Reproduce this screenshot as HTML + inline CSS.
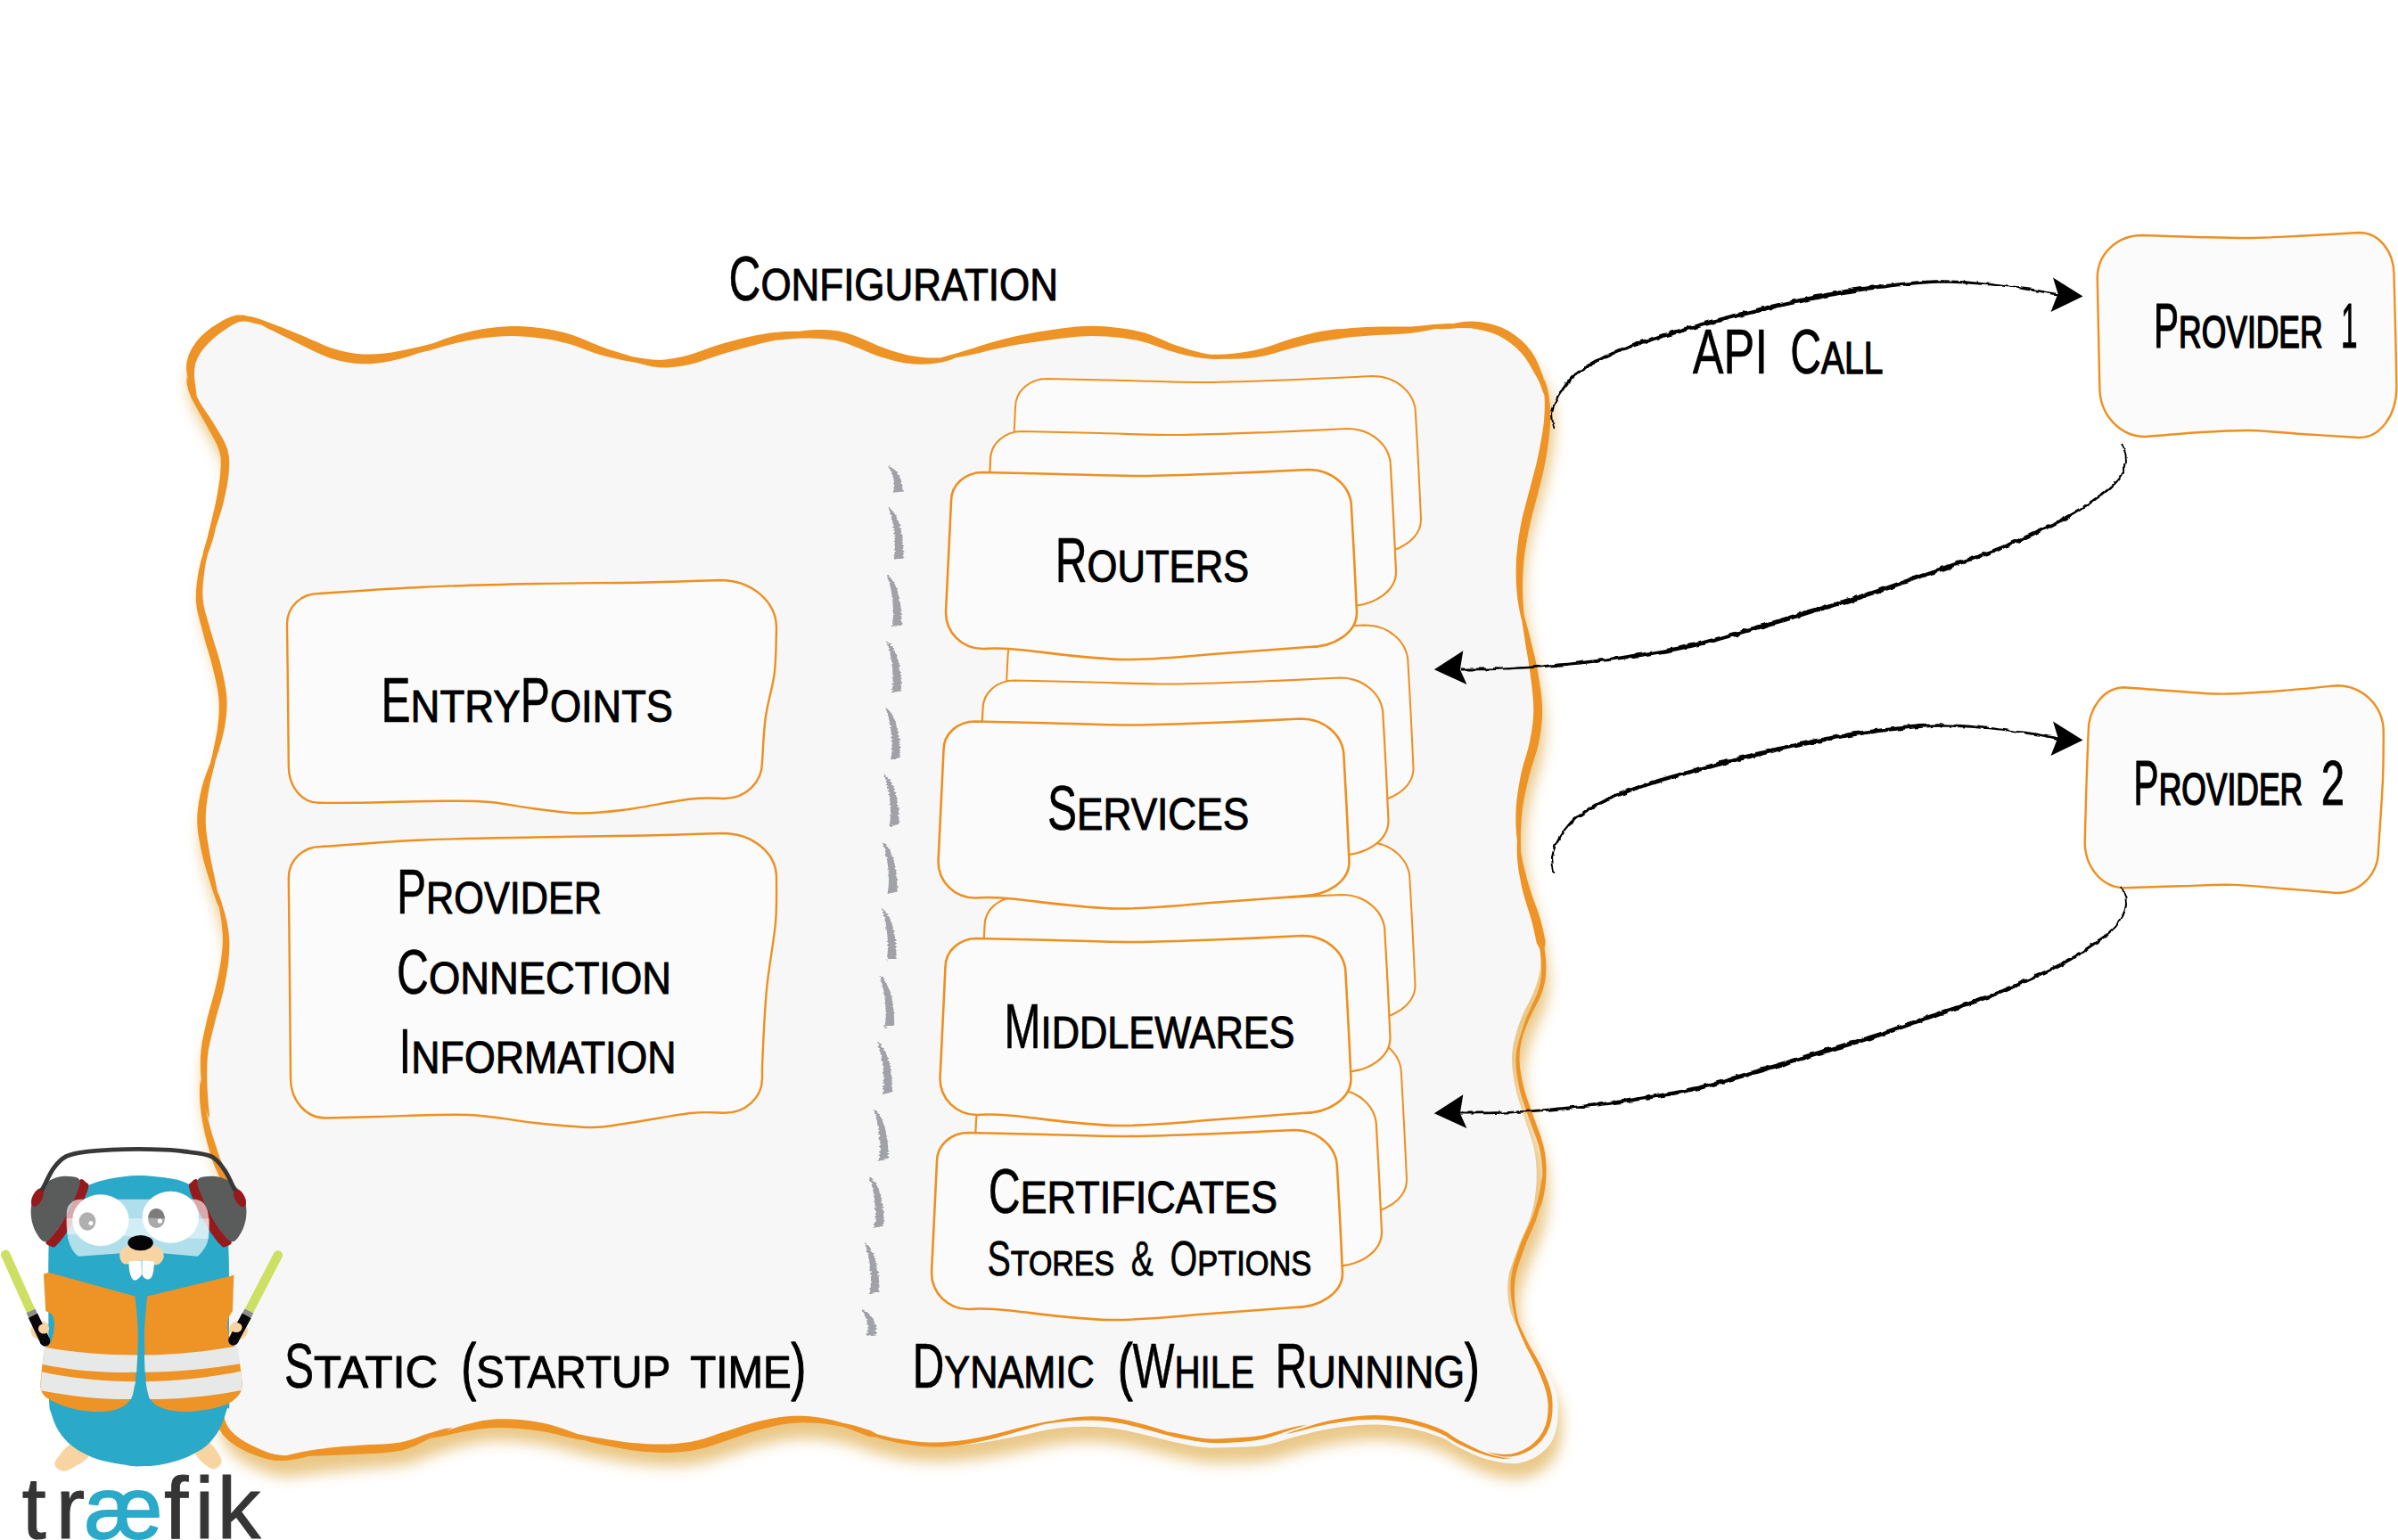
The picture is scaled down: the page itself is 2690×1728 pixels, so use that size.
<!DOCTYPE html>
<html lang="en"><head><meta charset="utf-8"><title>Traefik configuration overview</title>
<style>
html,body{margin:0;padding:0;background:#fff;}
body{width:2690px;height:1728px;overflow:hidden;}
svg{display:block;}
text{font-family:"Liberation Sans",sans-serif;fill:#000;}
.sc{stroke:#000;stroke-width:1px;stroke-linejoin:round;}
.lbl{stroke:#000;stroke-linejoin:round;}
.sm{text-transform:uppercase;}
.sc{font-variant:small-caps;font-variant-caps:small-caps;}
</style></head><body>
<svg width="2690" height="1728" viewBox="0 0 2690 1728" role="img" aria-labelledby="dgt dgd">
<title id="dgt">Traefik configuration overview</title>
<desc id="dgd">Configuration. Static (startup time): EntryPoints, Provider Connection Information. Dynamic (While Running): Routers, Services, Middlewares, Certificates Stores &amp; Options. API Call to Provider 1 and Provider 2. træfik</desc>
<defs>
<filter id="rough" x="-2%" y="-10%" width="104%" height="120%"><feTurbulence type="fractalNoise" baseFrequency="0.11" numOctaves="2" seed="3" result="n"/><feDisplacementMap in="SourceGraphic" in2="n" scale="4.5" xChannelSelector="R" yChannelSelector="G"/></filter>
<filter id="rough2" x="-30%" y="-5%" width="160%" height="110%"><feTurbulence type="fractalNoise" baseFrequency="0.03 0.55" numOctaves="1" seed="7" result="n"/><feDisplacementMap in="SourceGraphic" in2="n" scale="4.5" xChannelSelector="R" yChannelSelector="A"/></filter>
<filter id="glow" x="-5%" y="-5%" width="112%" height="112%"><feGaussianBlur stdDeviation="8"/></filter>
</defs>
<g transform="translate(4,17)" opacity="0.58" filter="url(#glow)"><path d="M273.3 356.7C283.3 357.2 295.6 365.3 306.7 370.0C317.8 374.7 328.9 380.3 340.0 385.0C351.1 389.7 362.2 395.2 373.3 398.3C384.4 401.4 395.6 403.0 406.7 403.3C417.8 403.6 428.9 401.9 440.0 400.0C451.1 398.1 462.2 394.8 473.3 391.7C484.4 388.6 495.6 384.5 506.7 381.7C517.8 378.9 528.9 376.5 540.0 375.0C551.1 373.5 562.2 372.7 573.3 372.7C584.4 372.7 595.6 373.5 606.7 375.0C617.8 376.5 628.9 378.6 640.0 381.7C651.1 384.8 662.2 390.0 673.3 393.3C684.4 396.6 695.6 399.4 706.7 401.7C717.8 404.0 728.9 407.0 740.0 407.3C751.1 407.6 762.2 405.6 773.3 403.3C784.4 401.0 795.6 396.4 806.7 393.3C817.8 390.2 828.9 387.5 840.0 385.0C851.1 382.5 862.2 380.0 873.3 378.3C884.4 376.6 895.6 375.1 906.7 375.0C917.8 374.9 930.1 375.7 940.0 377.5C949.9 379.3 958.8 383.4 966.0 386.0C973.2 388.6 974.8 390.4 983.3 393.0C991.8 395.6 1005.6 400.1 1016.7 401.7C1027.8 403.3 1038.9 403.5 1050.0 402.7C1061.1 401.9 1072.2 399.1 1083.3 396.7C1094.4 394.3 1105.6 390.8 1116.7 388.3C1127.8 385.8 1138.9 383.6 1150.0 381.7C1161.1 379.8 1172.2 378.2 1183.3 376.7C1194.4 375.2 1205.6 373.3 1216.7 372.7C1227.8 372.1 1238.9 372.4 1250.0 373.3C1261.1 374.2 1272.2 375.5 1283.3 378.3C1294.4 381.1 1305.6 386.7 1316.7 390.0C1327.8 393.3 1338.9 396.5 1350.0 398.3C1361.1 400.1 1372.2 401.0 1383.3 400.7C1394.4 400.4 1405.6 399.0 1416.7 396.7C1427.8 394.4 1438.9 389.8 1450.0 386.7C1461.1 383.6 1472.2 380.5 1483.3 378.3C1494.4 376.1 1505.6 374.6 1516.7 373.3C1527.8 372.0 1538.9 371.4 1550.0 370.7C1561.1 370.0 1572.2 370.2 1583.3 369.3C1594.4 368.4 1605.6 366.1 1616.7 365.0C1627.8 363.9 1638.9 361.6 1650.0 362.7C1661.1 363.8 1673.3 366.9 1683.3 371.7C1693.3 376.5 1702.9 384.3 1710.0 391.7C1717.1 399.1 1722.0 408.6 1726.0 416.0C1730.0 423.4 1732.3 427.0 1734.0 436.0C1735.7 445.0 1736.7 457.4 1736.0 470.0C1735.3 482.6 1732.6 498.4 1730.0 511.4C1727.4 524.4 1724.0 534.8 1720.5 547.8C1717.0 560.8 1711.9 575.5 1709.0 589.4C1706.1 603.3 1703.8 617.1 1703.0 631.0C1702.2 644.9 1702.5 658.7 1704.0 672.5C1705.5 686.3 1709.0 700.1 1711.7 714.0C1714.5 727.9 1718.2 741.8 1720.5 755.6C1722.8 769.4 1725.5 784.0 1725.7 797.0C1726.0 810.0 1724.3 821.3 1722.0 833.5C1719.7 845.7 1714.7 857.0 1711.7 870.0C1708.7 883.0 1705.3 897.6 1704.0 911.4C1702.7 925.2 1702.7 939.1 1704.0 953.0C1705.3 966.9 1708.4 980.7 1711.7 994.5C1715.0 1008.3 1720.8 1022.1 1723.6 1036.0C1726.4 1049.9 1728.5 1065.5 1728.2 1077.7C1728.0 1089.9 1725.9 1097.7 1722.1 1109.0C1718.3 1120.3 1709.7 1133.4 1705.4 1145.5C1701.1 1157.6 1697.3 1169.7 1696.3 1181.8C1695.3 1193.9 1697.2 1206.1 1699.5 1218.2C1701.8 1230.3 1706.4 1242.4 1710.0 1254.5C1713.6 1266.6 1719.0 1278.9 1721.3 1291.0C1723.5 1303.1 1724.1 1315.2 1723.5 1327.3C1722.9 1339.4 1721.0 1351.5 1717.6 1363.6C1714.2 1375.7 1707.3 1387.9 1703.0 1400.0C1698.7 1412.1 1693.0 1424.3 1691.7 1436.4C1690.4 1448.5 1691.5 1461.4 1694.9 1472.7C1698.3 1484.0 1705.4 1493.9 1711.9 1504.5C1718.4 1515.1 1728.0 1525.8 1733.9 1536.4C1739.7 1547.0 1745.2 1556.3 1747.0 1568.2C1748.8 1580.1 1747.6 1597.6 1744.6 1608.0C1741.5 1618.4 1735.9 1625.0 1728.7 1630.7C1721.5 1636.4 1711.6 1640.9 1701.5 1642.0C1691.4 1643.1 1678.8 1640.5 1668.0 1637.5C1657.2 1634.5 1645.0 1628.1 1636.4 1624.0C1627.9 1619.9 1625.6 1616.5 1616.7 1613.0C1607.8 1609.5 1594.4 1605.4 1583.3 1603.0C1572.2 1600.6 1561.1 1599.2 1550.0 1598.7C1538.9 1598.2 1527.8 1598.7 1516.7 1599.7C1505.6 1600.7 1494.4 1602.5 1483.3 1604.7C1472.2 1606.9 1461.1 1610.1 1450.0 1613.0C1438.9 1615.9 1427.8 1620.2 1416.7 1622.0C1405.6 1623.8 1394.4 1623.7 1383.3 1624.0C1372.2 1624.3 1361.1 1625.0 1350.0 1624.0C1338.9 1623.0 1327.8 1620.4 1316.7 1618.0C1305.6 1615.6 1294.4 1612.2 1283.3 1609.7C1272.2 1607.2 1261.1 1604.5 1250.0 1603.0C1238.9 1601.5 1227.8 1600.7 1216.7 1600.7C1205.6 1600.7 1194.4 1601.5 1183.3 1603.0C1172.2 1604.5 1161.1 1607.5 1150.0 1609.7C1138.9 1611.9 1127.8 1614.3 1116.7 1616.2C1105.6 1618.1 1094.4 1620.1 1083.3 1621.1C1072.2 1622.2 1061.1 1623.0 1050.0 1622.7C1038.9 1622.3 1027.8 1621.0 1016.7 1619.2C1005.6 1617.4 994.4 1614.7 983.3 1611.7C972.2 1608.7 961.1 1603.8 950.0 1601.0C938.9 1598.2 927.8 1596.0 916.7 1595.0C905.6 1594.0 894.4 1593.9 883.3 1595.0C872.2 1596.1 861.1 1598.9 850.0 1601.7C838.9 1604.5 827.8 1608.4 816.7 1611.7C805.6 1615.0 794.4 1619.5 783.3 1621.7C772.2 1623.9 761.1 1624.7 750.0 1625.0C738.9 1625.3 727.8 1624.4 716.7 1623.3C705.6 1622.2 694.4 1620.2 683.3 1618.3C672.2 1616.4 661.1 1614.2 650.0 1611.7C638.9 1609.2 627.8 1605.5 616.7 1603.3C605.6 1601.1 594.4 1599.4 583.3 1598.3C572.2 1597.2 561.1 1596.1 550.0 1596.7C538.9 1597.3 527.8 1599.2 516.7 1601.7C505.6 1604.2 494.4 1608.1 483.3 1611.7C472.2 1615.3 463.9 1620.5 450.0 1623.3C436.1 1626.1 416.7 1626.6 400.0 1628.3C383.3 1630.0 363.9 1631.9 350.0 1633.3C336.1 1634.7 326.1 1637.0 316.7 1636.7C307.2 1636.4 301.6 1634.8 293.3 1631.7C285.0 1628.6 273.9 1623.6 266.7 1618.3C259.5 1613.0 253.4 1608.0 250.0 1600.0C246.6 1592.0 246.8 1586.7 246.0 1570.0C245.2 1553.3 245.0 1528.3 245.0 1500.0C245.0 1471.7 245.2 1423.3 246.0 1400.0C246.8 1376.7 248.5 1372.0 250.0 1360.0C251.5 1348.0 255.8 1338.0 255.0 1328.0C254.2 1318.0 248.4 1310.7 245.0 1300.0C241.6 1289.3 237.4 1275.7 234.5 1263.6C231.6 1251.5 229.1 1240.3 227.8 1227.3C226.5 1214.3 225.7 1198.7 226.8 1185.7C227.9 1172.7 231.2 1162.4 234.5 1149.4C237.8 1136.4 243.5 1120.8 246.5 1107.8C249.5 1094.8 251.8 1082.7 252.7 1071.4C253.6 1060.1 253.6 1052.1 251.7 1040.0C249.8 1027.9 245.0 1012.5 241.3 998.7C237.6 984.9 232.3 970.0 229.4 957.0C226.5 944.0 224.0 932.9 224.0 920.8C224.0 908.7 226.5 896.5 229.4 884.4C232.3 872.3 237.9 860.1 241.3 848.0C244.7 835.9 248.3 823.0 250.0 811.7C251.7 800.5 252.5 791.8 251.7 780.5C250.9 769.2 247.9 756.1 245.0 744.0C242.1 731.9 237.7 719.9 234.5 707.8C231.3 695.7 226.5 684.4 225.7 671.4C224.8 658.4 227.3 641.2 229.4 630.0C231.5 618.8 235.0 614.4 238.0 604.0C241.0 593.6 245.1 579.7 247.5 567.5C249.9 555.3 252.1 541.4 252.7 531.0C253.3 520.6 253.7 514.0 251.0 505.0C248.3 495.9 241.3 485.3 236.7 476.7C232.1 468.1 227.2 461.1 223.3 453.3C219.4 445.5 215.2 437.8 213.3 430.0C211.4 422.2 210.0 414.2 211.7 406.7C213.4 399.2 217.5 391.7 223.3 385.0C229.1 378.3 238.4 371.4 246.7 366.7C255.0 362.0 263.3 356.1 273.3 356.7Z" fill="#daa032"/><path d="M273.3 356.7C283.3 357.2 295.6 365.3 306.7 370.0C317.8 374.7 328.9 380.3 340.0 385.0C351.1 389.7 362.2 395.2 373.3 398.3C384.4 401.4 395.6 403.0 406.7 403.3C417.8 403.6 428.9 401.9 440.0 400.0C451.1 398.1 462.2 394.8 473.3 391.7C484.4 388.6 495.6 384.5 506.7 381.7C517.8 378.9 528.9 376.5 540.0 375.0C551.1 373.5 562.2 372.7 573.3 372.7C584.4 372.7 595.6 373.5 606.7 375.0C617.8 376.5 628.9 378.6 640.0 381.7C651.1 384.8 662.2 390.0 673.3 393.3C684.4 396.6 695.6 399.4 706.7 401.7C717.8 404.0 728.9 407.0 740.0 407.3C751.1 407.6 762.2 405.6 773.3 403.3C784.4 401.0 795.6 396.4 806.7 393.3C817.8 390.2 828.9 387.5 840.0 385.0C851.1 382.5 862.2 380.0 873.3 378.3C884.4 376.6 895.6 375.1 906.7 375.0C917.8 374.9 930.1 375.7 940.0 377.5C949.9 379.3 958.8 383.4 966.0 386.0C973.2 388.6 974.8 390.4 983.3 393.0C991.8 395.6 1005.6 400.1 1016.7 401.7C1027.8 403.3 1038.9 403.5 1050.0 402.7C1061.1 401.9 1072.2 399.1 1083.3 396.7C1094.4 394.3 1105.6 390.8 1116.7 388.3C1127.8 385.8 1138.9 383.6 1150.0 381.7C1161.1 379.8 1172.2 378.2 1183.3 376.7C1194.4 375.2 1205.6 373.3 1216.7 372.7C1227.8 372.1 1238.9 372.4 1250.0 373.3C1261.1 374.2 1272.2 375.5 1283.3 378.3C1294.4 381.1 1305.6 386.7 1316.7 390.0C1327.8 393.3 1338.9 396.5 1350.0 398.3C1361.1 400.1 1372.2 401.0 1383.3 400.7C1394.4 400.4 1405.6 399.0 1416.7 396.7C1427.8 394.4 1438.9 389.8 1450.0 386.7C1461.1 383.6 1472.2 380.5 1483.3 378.3C1494.4 376.1 1505.6 374.6 1516.7 373.3C1527.8 372.0 1538.9 371.4 1550.0 370.7C1561.1 370.0 1572.2 370.2 1583.3 369.3C1594.4 368.4 1605.6 366.1 1616.7 365.0C1627.8 363.9 1638.9 361.6 1650.0 362.7C1661.1 363.8 1673.3 366.9 1683.3 371.7C1693.3 376.5 1702.9 384.3 1710.0 391.7C1717.1 399.1 1722.0 408.6 1726.0 416.0C1730.0 423.4 1732.3 427.0 1734.0 436.0C1735.7 445.0 1736.7 457.4 1736.0 470.0C1735.3 482.6 1732.6 498.4 1730.0 511.4C1727.4 524.4 1724.0 534.8 1720.5 547.8C1717.0 560.8 1711.9 575.5 1709.0 589.4C1706.1 603.3 1703.8 617.1 1703.0 631.0C1702.2 644.9 1702.5 658.7 1704.0 672.5C1705.5 686.3 1709.0 700.1 1711.7 714.0C1714.5 727.9 1718.2 741.8 1720.5 755.6C1722.8 769.4 1725.5 784.0 1725.7 797.0C1726.0 810.0 1724.3 821.3 1722.0 833.5C1719.7 845.7 1714.7 857.0 1711.7 870.0C1708.7 883.0 1705.3 897.6 1704.0 911.4C1702.7 925.2 1702.7 939.1 1704.0 953.0C1705.3 966.9 1708.4 980.7 1711.7 994.5C1715.0 1008.3 1720.5 1022.1 1723.6 1036.0C1726.6 1049.9 1729.4 1065.5 1730.0 1077.7C1730.6 1089.9 1730.1 1097.7 1727.0 1109.0C1723.9 1120.3 1715.5 1133.4 1711.4 1145.5C1707.3 1157.6 1703.3 1169.7 1702.3 1181.8C1701.3 1193.9 1703.2 1206.1 1705.5 1218.2C1707.8 1230.3 1712.4 1242.4 1716.0 1254.5C1719.6 1266.6 1725.0 1278.9 1727.3 1291.0C1729.5 1303.1 1730.1 1315.2 1729.5 1327.3C1728.9 1339.4 1727.0 1351.5 1723.6 1363.6C1720.2 1375.7 1713.3 1387.9 1709.0 1400.0C1704.7 1412.1 1699.4 1424.3 1697.7 1436.4C1696.0 1448.5 1696.7 1461.4 1699.0 1472.7C1701.3 1484.0 1706.3 1493.9 1711.4 1504.5C1716.5 1515.1 1724.6 1525.8 1729.5 1536.4C1734.4 1547.0 1739.5 1557.6 1741.0 1568.2C1742.5 1578.8 1741.6 1590.9 1738.6 1600.0C1735.5 1609.1 1729.9 1617.0 1722.7 1622.7C1715.5 1628.4 1704.6 1632.9 1695.5 1634.0C1686.4 1635.1 1677.8 1632.5 1668.0 1629.5C1658.2 1626.5 1645.0 1620.1 1636.4 1616.0C1627.9 1611.9 1625.6 1608.5 1616.7 1605.0C1607.8 1601.5 1594.4 1597.4 1583.3 1595.0C1572.2 1592.6 1561.1 1591.2 1550.0 1590.7C1538.9 1590.2 1527.8 1590.7 1516.7 1591.7C1505.6 1592.7 1494.4 1594.5 1483.3 1596.7C1472.2 1598.9 1461.1 1602.1 1450.0 1605.0C1438.9 1607.9 1427.8 1612.2 1416.7 1614.0C1405.6 1615.8 1394.4 1615.7 1383.3 1616.0C1372.2 1616.3 1361.1 1617.0 1350.0 1616.0C1338.9 1615.0 1327.8 1612.4 1316.7 1610.0C1305.6 1607.6 1294.4 1604.2 1283.3 1601.7C1272.2 1599.2 1261.1 1596.5 1250.0 1595.0C1238.9 1593.5 1227.8 1592.7 1216.7 1592.7C1205.6 1592.7 1194.4 1593.5 1183.3 1595.0C1172.2 1596.5 1161.1 1599.2 1150.0 1601.7C1138.9 1604.2 1127.8 1607.5 1116.7 1610.0C1105.6 1612.5 1094.4 1615.0 1083.3 1616.7C1072.2 1618.4 1061.1 1619.7 1050.0 1620.0C1038.9 1620.3 1027.8 1619.7 1016.7 1618.3C1005.6 1616.9 994.4 1614.6 983.3 1611.7C972.2 1608.8 961.1 1603.8 950.0 1601.0C938.9 1598.2 927.8 1596.0 916.7 1595.0C905.6 1594.0 894.4 1593.9 883.3 1595.0C872.2 1596.1 861.1 1598.9 850.0 1601.7C838.9 1604.5 827.8 1608.4 816.7 1611.7C805.6 1615.0 794.4 1619.5 783.3 1621.7C772.2 1623.9 761.1 1624.7 750.0 1625.0C738.9 1625.3 727.8 1624.4 716.7 1623.3C705.6 1622.2 694.4 1620.2 683.3 1618.3C672.2 1616.4 661.1 1614.2 650.0 1611.7C638.9 1609.2 627.8 1605.5 616.7 1603.3C605.6 1601.1 594.4 1599.4 583.3 1598.3C572.2 1597.2 561.1 1596.1 550.0 1596.7C538.9 1597.3 527.8 1599.2 516.7 1601.7C505.6 1604.2 494.4 1608.1 483.3 1611.7C472.2 1615.3 463.9 1620.5 450.0 1623.3C436.1 1626.1 416.7 1626.6 400.0 1628.3C383.3 1630.0 363.9 1631.9 350.0 1633.3C336.1 1634.7 326.1 1637.0 316.7 1636.7C307.2 1636.4 301.6 1634.8 293.3 1631.7C285.0 1628.6 273.9 1623.6 266.7 1618.3C259.5 1613.0 253.4 1608.0 250.0 1600.0C246.6 1592.0 246.8 1586.7 246.0 1570.0C245.2 1553.3 245.0 1528.3 245.0 1500.0C245.0 1471.7 245.2 1423.3 246.0 1400.0C246.8 1376.7 248.5 1372.0 250.0 1360.0C251.5 1348.0 255.8 1338.0 255.0 1328.0C254.2 1318.0 248.4 1310.7 245.0 1300.0C241.6 1289.3 237.4 1275.7 234.5 1263.6C231.6 1251.5 229.1 1240.3 227.8 1227.3C226.5 1214.3 225.7 1198.7 226.8 1185.7C227.9 1172.7 231.2 1162.4 234.5 1149.4C237.8 1136.4 243.5 1120.8 246.5 1107.8C249.5 1094.8 251.8 1082.7 252.7 1071.4C253.6 1060.1 253.6 1052.1 251.7 1040.0C249.8 1027.9 245.0 1012.5 241.3 998.7C237.6 984.9 232.3 970.0 229.4 957.0C226.5 944.0 224.0 932.9 224.0 920.8C224.0 908.7 226.5 896.5 229.4 884.4C232.3 872.3 237.9 860.1 241.3 848.0C244.7 835.9 248.3 823.0 250.0 811.7C251.7 800.5 252.5 791.8 251.7 780.5C250.9 769.2 247.9 756.1 245.0 744.0C242.1 731.9 237.7 719.9 234.5 707.8C231.3 695.7 226.5 684.4 225.7 671.4C224.8 658.4 227.3 641.2 229.4 630.0C231.5 618.8 235.0 614.4 238.0 604.0C241.0 593.6 245.1 579.7 247.5 567.5C249.9 555.3 252.1 541.4 252.7 531.0C253.3 520.6 253.7 514.0 251.0 505.0C248.3 495.9 241.3 485.3 236.7 476.7C232.1 468.1 227.2 461.1 223.3 453.3C219.4 445.5 215.2 437.8 213.3 430.0C211.4 422.2 210.0 414.2 211.7 406.7C213.4 399.2 217.5 391.7 223.3 385.0C229.1 378.3 238.4 371.4 246.7 366.7C255.0 362.0 263.3 356.1 273.3 356.7Z" fill="#daa032" stroke="#daa032" stroke-width="6"/></g>
<path d="M273.3 356.7C283.3 357.2 295.6 365.3 306.7 370.0C317.8 374.7 328.9 380.3 340.0 385.0C351.1 389.7 362.2 395.2 373.3 398.3C384.4 401.4 395.6 403.0 406.7 403.3C417.8 403.6 428.9 401.9 440.0 400.0C451.1 398.1 462.2 394.8 473.3 391.7C484.4 388.6 495.6 384.5 506.7 381.7C517.8 378.9 528.9 376.5 540.0 375.0C551.1 373.5 562.2 372.7 573.3 372.7C584.4 372.7 595.6 373.5 606.7 375.0C617.8 376.5 628.9 378.6 640.0 381.7C651.1 384.8 662.2 390.0 673.3 393.3C684.4 396.6 695.6 399.4 706.7 401.7C717.8 404.0 728.9 407.0 740.0 407.3C751.1 407.6 762.2 405.6 773.3 403.3C784.4 401.0 795.6 396.4 806.7 393.3C817.8 390.2 828.9 387.5 840.0 385.0C851.1 382.5 862.2 380.0 873.3 378.3C884.4 376.6 895.6 375.1 906.7 375.0C917.8 374.9 930.1 375.7 940.0 377.5C949.9 379.3 958.8 383.4 966.0 386.0C973.2 388.6 974.8 390.4 983.3 393.0C991.8 395.6 1005.6 400.1 1016.7 401.7C1027.8 403.3 1038.9 403.5 1050.0 402.7C1061.1 401.9 1072.2 399.1 1083.3 396.7C1094.4 394.3 1105.6 390.8 1116.7 388.3C1127.8 385.8 1138.9 383.6 1150.0 381.7C1161.1 379.8 1172.2 378.2 1183.3 376.7C1194.4 375.2 1205.6 373.3 1216.7 372.7C1227.8 372.1 1238.9 372.4 1250.0 373.3C1261.1 374.2 1272.2 375.5 1283.3 378.3C1294.4 381.1 1305.6 386.7 1316.7 390.0C1327.8 393.3 1338.9 396.5 1350.0 398.3C1361.1 400.1 1372.2 401.0 1383.3 400.7C1394.4 400.4 1405.6 399.0 1416.7 396.7C1427.8 394.4 1438.9 389.8 1450.0 386.7C1461.1 383.6 1472.2 380.5 1483.3 378.3C1494.4 376.1 1505.6 374.6 1516.7 373.3C1527.8 372.0 1538.9 371.4 1550.0 370.7C1561.1 370.0 1572.2 370.2 1583.3 369.3C1594.4 368.4 1605.6 366.1 1616.7 365.0C1627.8 363.9 1638.9 361.6 1650.0 362.7C1661.1 363.8 1673.3 366.9 1683.3 371.7C1693.3 376.5 1702.9 384.3 1710.0 391.7C1717.1 399.1 1722.0 408.6 1726.0 416.0C1730.0 423.4 1732.3 427.0 1734.0 436.0C1735.7 445.0 1736.7 457.4 1736.0 470.0C1735.3 482.6 1732.6 498.4 1730.0 511.4C1727.4 524.4 1724.0 534.8 1720.5 547.8C1717.0 560.8 1711.9 575.5 1709.0 589.4C1706.1 603.3 1703.8 617.1 1703.0 631.0C1702.2 644.9 1702.5 658.7 1704.0 672.5C1705.5 686.3 1709.0 700.1 1711.7 714.0C1714.5 727.9 1718.2 741.8 1720.5 755.6C1722.8 769.4 1725.5 784.0 1725.7 797.0C1726.0 810.0 1724.3 821.3 1722.0 833.5C1719.7 845.7 1714.7 857.0 1711.7 870.0C1708.7 883.0 1705.3 897.6 1704.0 911.4C1702.7 925.2 1702.7 939.1 1704.0 953.0C1705.3 966.9 1708.4 980.7 1711.7 994.5C1715.0 1008.3 1720.8 1022.1 1723.6 1036.0C1726.4 1049.9 1728.5 1065.5 1728.2 1077.7C1728.0 1089.9 1725.9 1097.7 1722.1 1109.0C1718.3 1120.3 1709.7 1133.4 1705.4 1145.5C1701.1 1157.6 1697.3 1169.7 1696.3 1181.8C1695.3 1193.9 1697.2 1206.1 1699.5 1218.2C1701.8 1230.3 1706.4 1242.4 1710.0 1254.5C1713.6 1266.6 1719.0 1278.9 1721.3 1291.0C1723.5 1303.1 1724.1 1315.2 1723.5 1327.3C1722.9 1339.4 1721.0 1351.5 1717.6 1363.6C1714.2 1375.7 1707.3 1387.9 1703.0 1400.0C1698.7 1412.1 1693.0 1424.3 1691.7 1436.4C1690.4 1448.5 1691.5 1461.4 1694.9 1472.7C1698.3 1484.0 1705.4 1493.9 1711.9 1504.5C1718.4 1515.1 1728.0 1525.8 1733.9 1536.4C1739.7 1547.0 1745.2 1556.3 1747.0 1568.2C1748.8 1580.1 1747.6 1597.6 1744.6 1608.0C1741.5 1618.4 1735.9 1625.0 1728.7 1630.7C1721.5 1636.4 1711.6 1640.9 1701.5 1642.0C1691.4 1643.1 1678.8 1640.5 1668.0 1637.5C1657.2 1634.5 1645.0 1628.1 1636.4 1624.0C1627.9 1619.9 1625.6 1616.5 1616.7 1613.0C1607.8 1609.5 1594.4 1605.4 1583.3 1603.0C1572.2 1600.6 1561.1 1599.2 1550.0 1598.7C1538.9 1598.2 1527.8 1598.7 1516.7 1599.7C1505.6 1600.7 1494.4 1602.5 1483.3 1604.7C1472.2 1606.9 1461.1 1610.1 1450.0 1613.0C1438.9 1615.9 1427.8 1620.2 1416.7 1622.0C1405.6 1623.8 1394.4 1623.7 1383.3 1624.0C1372.2 1624.3 1361.1 1625.0 1350.0 1624.0C1338.9 1623.0 1327.8 1620.4 1316.7 1618.0C1305.6 1615.6 1294.4 1612.2 1283.3 1609.7C1272.2 1607.2 1261.1 1604.5 1250.0 1603.0C1238.9 1601.5 1227.8 1600.7 1216.7 1600.7C1205.6 1600.7 1194.4 1601.5 1183.3 1603.0C1172.2 1604.5 1161.1 1607.5 1150.0 1609.7C1138.9 1611.9 1127.8 1614.3 1116.7 1616.2C1105.6 1618.1 1094.4 1620.1 1083.3 1621.1C1072.2 1622.2 1061.1 1623.0 1050.0 1622.7C1038.9 1622.3 1027.8 1621.0 1016.7 1619.2C1005.6 1617.4 994.4 1614.7 983.3 1611.7C972.2 1608.7 961.1 1603.8 950.0 1601.0C938.9 1598.2 927.8 1596.0 916.7 1595.0C905.6 1594.0 894.4 1593.9 883.3 1595.0C872.2 1596.1 861.1 1598.9 850.0 1601.7C838.9 1604.5 827.8 1608.4 816.7 1611.7C805.6 1615.0 794.4 1619.5 783.3 1621.7C772.2 1623.9 761.1 1624.7 750.0 1625.0C738.9 1625.3 727.8 1624.4 716.7 1623.3C705.6 1622.2 694.4 1620.2 683.3 1618.3C672.2 1616.4 661.1 1614.2 650.0 1611.7C638.9 1609.2 627.8 1605.5 616.7 1603.3C605.6 1601.1 594.4 1599.4 583.3 1598.3C572.2 1597.2 561.1 1596.1 550.0 1596.7C538.9 1597.3 527.8 1599.2 516.7 1601.7C505.6 1604.2 494.4 1608.1 483.3 1611.7C472.2 1615.3 463.9 1620.5 450.0 1623.3C436.1 1626.1 416.7 1626.6 400.0 1628.3C383.3 1630.0 363.9 1631.9 350.0 1633.3C336.1 1634.7 326.1 1637.0 316.7 1636.7C307.2 1636.4 301.6 1634.8 293.3 1631.7C285.0 1628.6 273.9 1623.6 266.7 1618.3C259.5 1613.0 253.4 1608.0 250.0 1600.0C246.6 1592.0 246.8 1586.7 246.0 1570.0C245.2 1553.3 245.0 1528.3 245.0 1500.0C245.0 1471.7 245.2 1423.3 246.0 1400.0C246.8 1376.7 248.5 1372.0 250.0 1360.0C251.5 1348.0 255.8 1338.0 255.0 1328.0C254.2 1318.0 248.4 1310.7 245.0 1300.0C241.6 1289.3 237.4 1275.7 234.5 1263.6C231.6 1251.5 229.1 1240.3 227.8 1227.3C226.5 1214.3 225.7 1198.7 226.8 1185.7C227.9 1172.7 231.2 1162.4 234.5 1149.4C237.8 1136.4 243.5 1120.8 246.5 1107.8C249.5 1094.8 251.8 1082.7 252.7 1071.4C253.6 1060.1 253.6 1052.1 251.7 1040.0C249.8 1027.9 245.0 1012.5 241.3 998.7C237.6 984.9 232.3 970.0 229.4 957.0C226.5 944.0 224.0 932.9 224.0 920.8C224.0 908.7 226.5 896.5 229.4 884.4C232.3 872.3 237.9 860.1 241.3 848.0C244.7 835.9 248.3 823.0 250.0 811.7C251.7 800.5 252.5 791.8 251.7 780.5C250.9 769.2 247.9 756.1 245.0 744.0C242.1 731.9 237.7 719.9 234.5 707.8C231.3 695.7 226.5 684.4 225.7 671.4C224.8 658.4 227.3 641.2 229.4 630.0C231.5 618.8 235.0 614.4 238.0 604.0C241.0 593.6 245.1 579.7 247.5 567.5C249.9 555.3 252.1 541.4 252.7 531.0C253.3 520.6 253.7 514.0 251.0 505.0C248.3 495.9 241.3 485.3 236.7 476.7C232.1 468.1 227.2 461.1 223.3 453.3C219.4 445.5 215.2 437.8 213.3 430.0C211.4 422.2 210.0 414.2 211.7 406.7C213.4 399.2 217.5 391.7 223.3 385.0C229.1 378.3 238.4 371.4 246.7 366.7C255.0 362.0 263.3 356.1 273.3 356.7Z" fill="#f7f7f7"/>
<path d="M273.3 355.5L280.2 355.0L287.5 356.7L294.9 359.3L302.1 362.1L309.1 364.8L316.0 367.2L322.8 369.9L329.5 372.7L336.3 375.6L343.0 378.3L349.6 381.2L356.2 384.1L362.6 386.9L368.9 389.4L375.1 391.6L383.0 393.7L391.0 395.4L398.9 396.7L406.8 397.4L414.8 397.6L422.8 397.2L431.0 396.4L439.1 395.4L447.4 394.0L455.7 392.3L464.0 390.4L472.4 388.4L480.8 386.4L489.3 384.3L498.1 383.2L498.1 383.2L490.3 387.7L482.3 391.3L474.1 394.5L465.9 397.4L457.6 400.2L449.3 402.6L440.9 404.6L432.4 406.2L423.9 407.5L415.3 408.2L406.6 408.3L397.9 407.7L389.3 406.5L380.7 404.8L372.2 402.4L365.4 400.0L358.6 397.1L352.0 394.0L345.4 390.7L338.9 387.5L332.3 384.3L325.8 381.0L319.2 377.7L312.7 374.4L306.1 371.3L299.4 367.9L292.7 364.2L286.0 360.8L279.5 357.9L273.3 355.5ZM448.6 399.4L456.6 396.0L464.7 393.0L472.8 390.1L481.0 387.1L489.2 383.9L497.4 380.8L505.7 378.0L514.1 375.5L522.4 373.3L530.8 371.2L539.3 369.6L547.7 368.2L556.2 367.2L564.7 366.5L573.3 366.1L581.9 366.1L590.5 366.5L599.0 367.2L607.6 368.3L616.1 369.6L624.7 371.3L633.2 373.3L641.7 375.8L648.5 378.2L655.2 380.9L661.7 383.8L668.2 386.6L674.6 389.1L682.7 391.9L690.8 394.6L699.0 397.1L707.2 399.4L715.4 401.8L723.5 404.2L731.7 406.3L740.0 408.5L740.0 408.5L731.4 409.2L722.8 408.5L714.3 407.1L705.8 405.6L697.4 404.0L688.9 402.1L680.5 400.0L672.0 397.7L665.2 395.5L658.4 393.0L651.8 390.5L645.3 388.1L638.8 386.1L630.6 383.9L622.5 382.1L614.3 380.6L606.1 379.4L597.9 378.4L589.7 377.7L581.5 377.2L573.3 377.1L565.1 377.3L556.9 377.7L548.8 378.4L540.6 379.4L532.4 380.7L524.2 382.2L516.0 384.0L507.8 385.9L499.5 388.1L491.2 390.5L482.7 392.9L474.3 395.1L465.8 397.0L457.3 398.7L448.6 399.4ZM690.0 397.8L698.7 398.5L707.1 399.8L715.5 401.2L723.8 402.6L732.0 403.6L740.1 403.9L748.1 403.3L756.1 402.1L764.2 400.4L772.2 398.5L780.2 396.0L788.4 393.1L796.6 390.0L804.9 387.2L813.3 384.7L821.7 382.4L830.1 380.3L838.5 378.3L846.9 376.6L855.4 375.0L863.9 373.6L872.4 372.7L881.0 372.0L889.6 371.7L898.1 371.8L906.7 372.5L915.2 374.7L915.2 374.7L906.7 376.2L898.5 377.1L890.2 378.2L882.0 379.5L873.7 381.0L865.5 382.7L857.3 384.5L849.1 386.6L840.8 388.7L832.6 390.9L824.4 393.2L816.2 395.5L808.0 398.0L799.8 400.7L791.5 403.6L783.1 406.4L774.5 408.7L765.9 410.4L757.3 411.7L748.6 412.4L739.8 412.3L731.2 411.2L722.7 409.3L714.3 407.0L706.1 404.4L697.9 401.6L690.0 397.8ZM865.2 381.1L873.2 377.5L881.4 375.2L889.7 373.2L898.1 371.6L906.6 370.6L915.3 370.1L924.2 370.1L933.0 370.6L941.3 371.6L951.2 374.1L960.3 377.3L968.2 380.4L976.2 384.1L985.1 387.9L992.0 390.5L1000.1 393.4L1008.8 396.1L1017.2 398.3L1025.3 399.8L1033.4 400.8L1041.6 401.4L1049.9 401.5L1058.2 401.2L1066.7 400.4L1075.3 400.1L1075.3 400.1L1067.2 403.6L1058.9 405.9L1050.4 407.5L1041.8 408.4L1033.2 408.7L1024.5 408.4L1015.8 407.5L1006.7 405.7L997.5 403.3L988.8 400.7L981.4 398.3L972.3 394.6L964.1 390.9L956.5 387.9L948.2 384.8L939.0 382.3L931.5 381.1L923.5 380.2L915.1 379.7L906.8 379.5L898.6 379.6L890.4 380.1L882.1 380.8L873.8 381.4L865.2 381.1ZM1050.0 403.0L1058.2 400.5L1066.3 398.3L1074.4 395.9L1082.5 393.5L1090.7 391.0L1098.9 388.3L1107.2 385.7L1115.5 383.2L1123.9 381.0L1132.2 379.0L1140.5 377.1L1148.9 375.4L1157.3 373.8L1165.6 372.3L1174.0 371.0L1182.3 369.8L1190.7 368.6L1199.2 367.5L1207.7 366.5L1216.3 366.0L1224.9 365.8L1233.5 366.0L1242.0 366.5L1250.5 367.4L1259.0 368.4L1267.5 369.7L1276.0 371.4L1284.5 373.6L1291.3 375.9L1298.1 378.7L1304.7 381.6L1311.2 384.4L1317.7 386.9L1325.8 389.6L1334.0 392.2L1342.2 394.5L1350.3 396.4L1358.5 397.9L1366.7 399.1L1375.0 400.0L1383.3 401.3L1383.3 401.3L1374.9 402.7L1366.4 403.0L1357.9 402.7L1349.4 402.0L1340.8 400.7L1332.3 399.0L1323.8 396.9L1315.2 394.6L1308.4 392.5L1301.6 390.1L1294.9 387.6L1288.4 385.3L1282.0 383.4L1274.0 381.6L1265.9 380.2L1257.8 379.1L1249.6 378.3L1241.4 377.6L1233.3 377.2L1225.1 377.0L1217.0 377.2L1208.8 377.7L1200.5 378.5L1192.2 379.6L1183.9 380.6L1175.5 381.7L1167.2 382.8L1158.9 383.9L1150.6 385.2L1142.3 386.6L1134.0 388.1L1125.7 389.7L1117.4 391.4L1109.1 393.3L1100.7 395.4L1092.3 397.4L1083.9 399.2L1075.5 400.8L1067.0 402.3L1058.5 403.3L1050.0 403.0ZM1350.0 398.2L1358.5 397.8L1366.8 397.7L1375.0 397.4L1383.2 396.8L1391.3 395.8L1399.4 394.5L1407.4 392.9L1415.4 391.0L1423.4 388.7L1431.5 385.9L1439.8 383.0L1448.1 380.3L1456.5 377.9L1465.0 375.7L1473.5 373.6L1482.0 371.8L1490.5 370.4L1499.1 369.3L1507.7 368.9L1516.1 368.1L1524.6 367.5L1533.0 367.1L1541.4 366.8L1549.8 366.6L1558.2 366.5L1566.5 366.6L1574.8 366.6L1583.0 366.4L1591.3 365.7L1599.7 364.9L1608.1 364.0L1616.5 363.4L1624.9 362.9L1633.4 363.2L1633.4 363.2L1625.2 365.9L1617.0 367.6L1608.8 369.3L1600.5 371.0L1592.1 372.6L1583.7 373.8L1575.2 374.6L1566.9 375.1L1558.5 375.4L1550.3 375.8L1542.0 376.3L1533.8 376.8L1525.5 377.4L1517.2 378.1L1509.0 378.9L1500.7 380.4L1492.5 381.5L1484.2 382.8L1475.9 384.3L1467.6 386.1L1459.3 388.1L1451.0 390.2L1442.7 392.5L1434.3 395.0L1425.8 397.5L1417.3 399.4L1408.8 400.9L1400.3 401.9L1391.8 402.5L1383.3 402.8L1374.9 402.5L1366.5 401.8L1358.2 400.5L1350.0 398.2ZM1608.7 368.7L1616.8 366.0L1625.0 364.2L1633.3 362.4L1641.7 361.0L1650.2 360.6L1659.0 361.1L1668.0 362.5L1676.8 364.7L1685.2 367.7L1693.1 371.8L1700.6 376.9L1707.4 382.6L1713.3 388.6L1718.3 395.0L1722.3 401.8L1725.5 408.6L1728.1 414.9L1730.9 421.9L1732.6 428.3L1733.5 436.1L1732.5 443.7L1732.5 443.7L1729.7 436.9L1727.3 430.0L1724.6 424.6L1721.1 418.5L1718.0 412.9L1714.6 406.9L1710.6 400.9L1706.0 395.4L1700.6 390.1L1694.5 385.0L1687.9 380.4L1680.9 376.6L1673.5 373.6L1665.6 371.2L1657.5 369.5L1649.5 368.3L1641.7 368.0L1633.7 368.3L1625.6 368.9L1617.2 369.3L1608.7 368.7ZM1729.6 422.4L1733.4 428.0L1735.8 435.6L1737.3 443.1L1738.4 451.5L1739.1 460.6L1739.2 470.1L1738.8 478.2L1738.0 486.8L1737.0 495.5L1735.8 504.1L1734.5 512.3L1733.1 520.0L1731.6 527.4L1729.9 534.5L1728.1 541.8L1726.2 549.4L1724.6 556.1L1722.7 563.1L1720.8 570.1L1718.9 577.1L1717.2 584.0L1715.7 590.9L1714.3 597.6L1713.1 604.4L1711.9 611.2L1710.8 617.9L1709.9 624.6L1709.2 631.3L1708.6 639.4L1708.2 647.6L1708.0 655.7L1708.1 663.9L1708.3 672.0L1708.7 678.9L1709.3 685.8L1710.0 692.7L1710.6 699.8L1710.7 707.0L1710.7 707.0L1708.2 700.3L1706.4 693.4L1704.8 686.5L1703.5 679.6L1702.4 672.7L1701.5 664.3L1700.9 656.0L1700.6 647.6L1700.6 639.3L1700.8 630.9L1701.2 623.9L1701.9 616.8L1702.7 609.8L1703.6 602.8L1704.8 595.8L1706.0 588.7L1707.5 581.6L1709.2 574.4L1711.1 567.3L1713.0 560.2L1714.8 553.3L1716.6 546.7L1718.5 539.1L1720.4 532.0L1722.3 525.0L1724.0 517.9L1725.6 510.5L1727.2 502.5L1728.7 494.2L1730.2 485.7L1731.4 477.5L1732.2 469.8L1732.7 460.7L1732.8 451.8L1732.5 443.7L1732.0 436.4L1730.8 428.9L1729.6 422.4ZM1706.0 679.3L1708.4 685.9L1710.4 692.7L1712.3 699.4L1714.1 706.3L1715.8 713.1L1717.5 720.0L1719.2 726.9L1720.9 733.8L1722.5 740.8L1724.0 747.8L1725.2 754.8L1726.6 763.2L1728.0 771.7L1729.1 780.3L1729.8 788.7L1730.2 796.9L1730.0 804.7L1729.4 812.3L1728.5 819.7L1727.3 827.0L1725.9 834.3L1724.1 841.7L1721.9 848.9L1719.6 856.1L1717.3 863.4L1715.2 870.9L1713.7 877.4L1712.2 884.2L1710.7 891.1L1709.3 898.0L1708.2 904.9L1707.3 911.7L1706.6 919.9L1706.2 928.1L1705.9 936.3L1705.9 944.5L1706.1 952.8L1705.7 959.8L1705.7 959.8L1703.5 953.0L1702.1 944.8L1701.1 936.4L1700.5 928.0L1700.3 919.5L1700.5 911.1L1700.8 903.9L1701.5 896.7L1702.5 889.5L1703.6 882.4L1704.9 875.4L1706.2 868.6L1708.1 860.8L1710.2 853.4L1712.4 846.2L1714.4 839.2L1716.0 832.2L1717.3 825.3L1718.4 818.4L1719.4 811.5L1720.0 804.4L1720.3 797.1L1720.1 789.4L1719.5 781.4L1718.7 773.1L1717.7 764.7L1716.6 756.3L1715.7 749.4L1714.6 742.4L1713.4 735.4L1712.2 728.4L1711.0 721.4L1710.0 714.4L1708.9 707.4L1707.8 700.4L1706.8 693.4L1706.0 686.3L1706.0 679.3ZM1703.0 936.4L1704.5 944.6L1705.6 952.9L1706.8 959.7L1708.1 966.5L1709.7 973.3L1711.4 980.1L1713.2 986.9L1715.1 993.6L1717.2 1000.4L1719.5 1007.2L1722.0 1014.0L1724.4 1020.8L1726.8 1027.8L1728.8 1034.8L1730.6 1041.9L1732.2 1049.2L1733.7 1056.5L1732.6 1064.1L1733.5 1071.0L1734.1 1077.5L1734.4 1086.2L1734.1 1094.1L1733.0 1101.8L1730.9 1110.1L1728.3 1117.4L1724.8 1124.8L1721.0 1132.1L1717.3 1139.4L1714.2 1146.5L1711.4 1153.6L1708.8 1160.6L1706.4 1167.7L1704.4 1174.7L1702.5 1181.8L1702.5 1181.8L1702.9 1174.5L1704.3 1167.2L1706.3 1159.9L1708.5 1152.6L1710.9 1145.3L1713.8 1137.9L1717.3 1130.5L1720.9 1123.0L1724.0 1115.8L1726.4 1108.8L1728.1 1100.9L1729.0 1093.6L1729.2 1086.1L1728.8 1077.7L1728.2 1071.5L1727.2 1064.8L1723.7 1058.1L1722.3 1051.0L1720.7 1044.0L1719.1 1037.1L1717.3 1030.3L1715.2 1023.5L1713.1 1016.7L1710.9 1009.7L1708.9 1002.7L1707.1 995.7L1705.7 988.6L1704.4 981.6L1703.2 974.5L1702.4 967.4L1701.8 960.3L1701.6 953.2L1701.7 944.8L1703.0 936.4ZM1715.6 1138.7L1713.2 1146.2L1710.9 1153.4L1708.7 1160.6L1706.8 1167.8L1705.4 1174.9L1704.6 1182.0L1704.5 1189.1L1704.9 1196.2L1705.8 1203.3L1707.1 1210.4L1708.6 1217.5L1710.5 1224.6L1712.7 1231.7L1715.2 1238.8L1717.8 1245.9L1720.3 1253.1L1722.9 1260.3L1725.6 1267.5L1728.3 1274.9L1730.6 1282.4L1732.4 1290.0L1733.6 1297.6L1734.3 1305.1L1734.6 1312.6L1734.4 1320.1L1733.9 1327.5L1732.9 1334.9L1731.6 1342.3L1729.8 1349.6L1727.2 1356.8L1727.2 1356.8L1728.1 1349.3L1729.1 1341.9L1729.8 1334.6L1730.3 1327.3L1730.4 1320.0L1730.2 1312.8L1729.7 1305.5L1728.8 1298.2L1727.5 1291.0L1725.6 1283.7L1723.2 1276.5L1720.5 1269.2L1717.7 1262.0L1715.1 1254.8L1712.6 1247.6L1710.1 1240.4L1707.7 1233.1L1705.5 1225.9L1703.8 1218.6L1702.4 1211.2L1701.3 1203.9L1700.6 1196.5L1700.4 1189.1L1700.9 1181.7L1702.1 1174.3L1703.9 1167.1L1706.2 1159.9L1708.9 1152.8L1711.9 1145.7L1715.6 1138.7ZM1730.2 1320.0L1730.7 1327.4L1730.3 1334.7L1729.5 1342.0L1728.3 1349.3L1726.7 1356.6L1724.7 1363.9L1722.2 1371.2L1719.1 1378.5L1715.9 1385.8L1712.7 1393.1L1709.9 1400.4L1707.3 1407.7L1704.8 1415.0L1702.5 1422.2L1700.7 1429.5L1699.5 1436.7L1698.9 1443.9L1698.8 1451.1L1699.1 1458.4L1699.8 1465.4L1700.8 1472.3L1702.6 1480.5L1704.7 1488.7L1704.7 1488.7L1701.0 1481.0L1698.3 1472.9L1696.7 1465.9L1695.5 1458.6L1694.8 1451.2L1694.5 1443.6L1694.8 1436.0L1695.8 1428.4L1697.5 1420.8L1699.8 1413.3L1702.3 1405.8L1704.8 1398.4L1707.7 1391.0L1710.9 1383.7L1714.3 1376.6L1717.5 1369.5L1720.2 1362.6L1722.4 1355.6L1724.4 1348.6L1726.1 1341.5L1727.6 1334.4L1728.8 1327.3L1730.2 1320.0ZM1697.6 1465.8L1699.6 1472.6L1702.1 1480.7L1705.2 1488.5L1708.8 1496.1L1712.6 1503.9L1715.9 1510.3L1719.6 1516.6L1723.4 1523.1L1727.1 1529.6L1730.2 1536.0L1733.8 1544.1L1737.0 1552.1L1739.6 1560.2L1741.2 1568.2L1741.6 1576.4L1741.4 1584.7L1740.4 1592.7L1738.5 1600.0L1734.7 1608.6L1729.4 1616.4L1722.8 1622.8L1716.8 1626.9L1710.0 1630.4L1702.7 1633.0L1695.5 1634.5L1686.5 1634.4L1677.4 1632.5L1668.1 1629.1L1668.1 1629.1L1677.7 1631.0L1686.7 1632.1L1695.3 1631.6L1701.9 1629.8L1708.6 1627.0L1714.8 1623.5L1720.0 1619.6L1725.9 1613.5L1730.7 1606.3L1734.1 1598.3L1735.6 1591.6L1736.5 1584.3L1736.7 1576.6L1735.9 1569.0L1734.4 1561.5L1732.0 1553.9L1729.0 1546.2L1725.7 1538.3L1722.8 1531.9L1719.4 1525.4L1715.9 1518.8L1712.4 1512.2L1709.3 1505.6L1705.8 1497.5L1702.6 1489.5L1699.9 1481.4L1698.1 1472.9L1697.6 1465.8ZM1695.6 1636.2L1686.2 1637.0L1676.8 1635.5L1666.9 1632.9L1658.8 1630.2L1650.2 1626.7L1641.9 1622.9L1634.6 1619.4L1627.7 1615.4L1622.2 1611.7L1615.3 1608.2L1608.2 1605.4L1600.0 1602.6L1591.2 1599.9L1582.7 1597.7L1574.5 1596.0L1566.3 1594.7L1558.1 1593.7L1549.9 1593.0L1541.7 1592.8L1533.4 1592.9L1525.2 1593.3L1516.9 1594.0L1508.6 1595.0L1500.4 1596.2L1492.1 1597.6L1483.8 1599.3L1475.6 1601.1L1467.3 1603.2L1459.0 1605.4L1450.7 1607.4L1442.2 1609.3L1442.2 1609.3L1450.3 1606.1L1458.5 1603.4L1466.7 1600.8L1474.9 1598.3L1483.2 1596.1L1491.5 1594.1L1499.8 1592.4L1508.1 1590.9L1516.5 1589.7L1524.9 1588.9L1533.3 1588.3L1541.7 1588.0L1550.1 1588.2L1558.5 1588.8L1567.0 1589.7L1575.4 1591.1L1583.8 1592.9L1592.4 1595.2L1601.3 1598.0L1609.8 1601.0L1617.1 1604.0L1624.2 1607.8L1629.7 1611.7L1636.5 1615.9L1643.5 1619.5L1651.5 1623.6L1659.9 1627.4L1667.7 1630.4L1677.2 1633.5L1686.4 1635.6L1695.6 1636.2ZM1466.2 1598.8L1458.0 1601.6L1449.8 1604.1L1441.5 1606.8L1433.3 1609.7L1425.1 1612.5L1416.8 1614.8L1408.5 1616.3L1400.1 1617.3L1391.7 1618.0L1383.4 1618.5L1375.0 1619.0L1366.6 1619.2L1358.2 1619.0L1349.8 1618.3L1341.4 1616.8L1333.1 1614.8L1324.9 1612.4L1316.8 1609.8L1308.7 1606.5L1308.7 1606.5L1317.2 1607.8L1325.5 1609.5L1333.8 1611.3L1342.0 1612.8L1350.2 1613.9L1358.4 1614.4L1366.6 1614.4L1374.9 1614.0L1383.2 1613.5L1391.5 1613.1L1399.8 1612.6L1408.0 1611.8L1416.1 1610.5L1424.2 1608.6L1432.4 1606.3L1440.7 1603.9L1449.1 1601.8L1457.6 1600.0L1466.2 1598.8ZM1358.3 1617.2L1349.9 1617.6L1341.4 1616.9L1333.0 1615.6L1324.6 1614.0L1316.2 1612.2L1307.9 1610.1L1299.5 1607.8L1291.2 1605.4L1282.9 1603.2L1274.7 1601.1L1266.4 1599.1L1258.2 1597.3L1249.9 1595.9L1241.6 1594.8L1233.3 1594.1L1225.0 1593.7L1216.7 1593.7L1208.4 1593.9L1200.1 1594.5L1191.8 1595.3L1183.5 1596.3L1175.2 1597.5L1166.7 1598.5L1166.7 1598.5L1174.9 1595.8L1183.1 1593.8L1191.5 1592.2L1199.8 1590.9L1208.3 1590.0L1216.7 1589.4L1225.2 1589.2L1233.6 1589.4L1242.1 1590.0L1250.6 1591.0L1259.0 1592.4L1267.4 1594.3L1275.7 1596.4L1284.0 1598.6L1292.3 1601.0L1300.6 1603.6L1308.8 1606.2L1317.0 1608.5L1325.3 1610.7L1333.5 1612.8L1341.7 1614.6L1350.0 1616.0L1358.3 1617.2ZM1191.6 1593.5L1183.4 1595.4L1175.1 1597.2L1166.9 1599.3L1158.7 1601.6L1150.5 1603.9L1142.3 1606.2L1134.1 1608.7L1125.8 1611.1L1117.5 1613.4L1109.1 1615.4L1100.7 1617.3L1092.3 1619.1L1083.9 1620.5L1075.5 1621.7L1067.0 1622.6L1058.6 1623.2L1050.1 1623.4L1041.6 1623.2L1033.2 1622.7L1024.8 1621.8L1016.4 1620.6L1008.0 1619.1L999.7 1617.3L991.3 1615.2L983.0 1612.8L974.2 1611.7L966.0 1608.4L957.8 1605.2L949.6 1602.3L941.5 1600.0L933.3 1597.7L925.1 1595.2L925.1 1595.2L933.7 1595.2L942.3 1596.2L950.9 1597.7L959.4 1599.8L967.9 1602.4L976.2 1605.1L984.0 1609.3L992.2 1611.3L1000.5 1613.2L1008.7 1614.8L1017.0 1616.1L1025.2 1617.2L1033.5 1617.9L1041.7 1618.4L1050.0 1618.5L1058.2 1618.2L1066.5 1617.6L1074.8 1616.7L1083.1 1615.7L1091.5 1614.3L1099.8 1612.7L1108.1 1610.9L1116.5 1609.0L1124.8 1607.0L1133.1 1604.8L1141.4 1602.6L1149.7 1600.5L1158.1 1598.6L1166.4 1596.7L1174.8 1595.1L1183.1 1593.9L1191.6 1593.5ZM966.8 1605.8L958.2 1603.9L949.8 1601.9L941.4 1600.2L933.1 1598.8L924.8 1597.6L916.5 1596.8L908.3 1596.4L900.0 1596.3L891.8 1596.7L883.6 1597.4L875.4 1598.7L867.2 1600.4L859.0 1602.5L850.8 1604.7L842.6 1607.1L834.4 1609.8L826.1 1612.6L817.9 1615.4L809.6 1618.2L801.2 1621.1L792.8 1623.9L784.2 1626.1L775.7 1627.7L767.1 1628.8L758.6 1629.5L750.1 1629.9L741.6 1630.0L733.1 1629.6L724.6 1629.0L716.2 1628.2L707.7 1627.1L699.3 1625.7L690.9 1624.1L682.6 1622.4L674.2 1620.7L665.9 1618.8L657.6 1616.7L649.4 1614.4L641.1 1611.9L632.9 1609.1L624.8 1606.3L616.7 1603.1L616.7 1603.1L625.3 1604.0L633.7 1605.9L642.1 1607.8L650.5 1609.6L658.8 1611.2L667.1 1612.7L675.5 1614.1L683.8 1615.5L692.1 1616.7L700.5 1617.9L708.8 1618.9L717.1 1619.6L725.3 1620.2L733.6 1620.5L741.8 1620.6L749.9 1620.4L758.0 1619.9L766.1 1619.1L774.2 1617.9L782.2 1616.3L790.2 1614.2L798.3 1611.5L806.6 1608.6L814.8 1605.9L823.2 1603.2L831.6 1600.5L839.9 1597.9L848.4 1595.6L856.9 1593.5L865.4 1591.7L874.0 1590.2L882.7 1589.2L891.4 1588.7L900.0 1588.8L908.6 1589.3L917.1 1590.3L925.6 1591.7L934.0 1593.5L942.4 1595.8L950.7 1598.4L958.9 1601.5L966.8 1605.8ZM666.3 1616.7L657.7 1616.6L649.2 1615.3L640.7 1613.5L632.3 1611.4L624.1 1609.3L615.8 1607.5L607.6 1606.1L599.3 1604.8L591.1 1603.8L582.8 1603.1L574.6 1602.5L566.4 1602.0L558.3 1601.9L550.3 1602.2L542.2 1602.9L534.2 1604.0L526.1 1605.3L517.9 1606.8L509.6 1608.5L501.2 1610.4L492.7 1612.3L483.9 1613.4L483.9 1613.4L491.8 1609.3L499.9 1606.0L508.1 1603.0L516.4 1600.3L524.6 1597.9L533.0 1595.9L541.3 1594.1L549.8 1592.9L558.3 1592.3L566.9 1592.2L575.4 1592.5L583.8 1593.1L592.3 1593.9L600.8 1595.2L609.2 1596.8L617.7 1598.7L626.0 1601.2L634.2 1604.0L642.3 1607.1L650.4 1610.0L658.4 1612.9L666.3 1616.7ZM507.8 1601.9L500.0 1606.1L491.9 1609.8L483.9 1613.3L477.7 1616.2L471.8 1619.3L465.6 1622.3L458.8 1625.1L450.9 1627.4L444.4 1628.6L437.4 1629.6L430.1 1630.3L422.7 1630.7L415.1 1631.1L407.6 1631.4L400.3 1631.7L393.0 1632.1L385.5 1632.4L377.9 1632.7L370.4 1633.0L363.2 1633.3L356.4 1633.6L350.1 1633.8L340.3 1634.5L331.6 1635.3L323.9 1635.5L316.8 1634.4L316.8 1634.4L323.7 1632.4L331.2 1630.7L339.6 1628.9L349.3 1627.3L355.6 1626.3L362.4 1625.4L369.6 1624.6L377.0 1623.8L384.6 1623.1L392.1 1622.5L399.4 1621.9L406.8 1621.4L414.3 1621.1L421.8 1620.8L429.2 1620.4L436.3 1620.0L442.9 1619.3L448.9 1618.5L456.4 1616.8L463.0 1614.7L469.2 1612.4L475.4 1610.0L482.0 1607.9L490.5 1605.4L499.0 1603.1L507.8 1601.9ZM350.0 1633.2L340.4 1635.6L331.9 1637.3L324.0 1638.5L316.6 1639.1L307.9 1638.7L300.2 1637.2L292.2 1634.9L285.2 1632.4L277.8 1629.4L270.5 1625.8L264.0 1622.0L256.5 1616.5L250.2 1610.3L245.2 1602.5L242.6 1595.8L241.2 1589.0L240.4 1581.1L240.1 1570.3L239.7 1565.0L239.4 1559.2L239.2 1553.0L239.1 1546.4L239.1 1539.5L239.2 1532.1L239.3 1524.5L239.5 1516.6L239.8 1508.4L240.2 1500.0L240.6 1493.6L241.0 1486.8L241.6 1479.5L242.1 1471.9L242.8 1464.0L243.6 1456.1L245.0 1448.1L245.0 1448.1L245.9 1456.1L246.2 1464.0L246.4 1471.9L246.6 1479.5L246.7 1486.8L246.8 1493.6L246.9 1500.0L247.0 1508.4L247.1 1516.6L247.3 1524.5L247.5 1532.1L247.7 1539.3L248.0 1546.3L248.3 1552.8L248.6 1558.9L249.0 1564.6L249.5 1569.8L250.4 1580.3L251.1 1587.7L252.2 1593.0L254.0 1597.9L257.9 1604.3L263.2 1609.6L269.5 1614.4L275.2 1618.1L281.7 1621.6L288.5 1624.8L294.8 1627.5L302.0 1630.2L308.9 1632.1L316.9 1633.1L323.8 1633.4L331.4 1633.1L340.1 1632.8L350.0 1633.2ZM243.7 1479.5L242.8 1471.9L242.5 1464.0L242.3 1456.1L242.1 1448.1L242.0 1440.2L241.8 1432.5L241.7 1425.0L241.6 1417.9L241.5 1411.3L241.5 1405.2L241.4 1399.8L241.7 1387.7L242.2 1378.8L242.8 1371.9L243.5 1365.7L244.2 1359.0L245.5 1350.2L247.1 1342.3L248.2 1335.1L248.3 1328.6L246.9 1322.6L244.4 1316.6L241.3 1310.0L238.4 1302.4L236.2 1295.4L234.0 1288.0L231.9 1280.4L230.0 1272.7L228.4 1265.1L227.0 1257.7L225.8 1250.4L224.9 1243.1L224.2 1235.5L223.9 1227.7L224.0 1219.5L224.9 1210.9L224.9 1210.9L226.6 1219.3L227.7 1227.3L228.9 1234.9L230.3 1242.1L231.9 1249.2L233.6 1256.2L235.4 1263.4L237.4 1270.7L239.7 1278.2L242.1 1285.6L244.4 1292.7L246.7 1299.4L249.8 1306.8L253.1 1313.5L256.0 1320.3L257.7 1327.8L257.7 1335.7L256.4 1343.7L254.7 1351.9L253.3 1360.6L252.6 1367.0L251.8 1373.0L251.0 1379.6L250.2 1388.3L249.6 1400.2L249.4 1405.5L249.1 1411.5L248.8 1418.1L248.4 1425.1L248.0 1432.5L247.5 1440.3L247.0 1448.1L246.5 1456.1L245.9 1464.0L245.1 1471.9L243.7 1479.5ZM234.9 1256.0L232.2 1249.1L230.3 1242.1L228.8 1234.9L227.5 1227.3L226.5 1219.3L225.6 1210.8L225.0 1202.2L224.8 1193.7L224.9 1185.5L225.5 1177.9L226.5 1170.6L227.9 1163.4L229.5 1156.1L231.2 1148.5L232.7 1141.7L234.6 1134.6L236.6 1127.4L238.6 1120.3L240.5 1113.4L242.1 1106.7L243.8 1099.2L245.4 1091.8L246.7 1084.7L247.9 1077.8L248.7 1071.1L249.5 1063.3L249.9 1056.1L249.8 1048.7L249.1 1040.4L248.5 1034.1L247.4 1027.3L246.2 1020.2L244.9 1013.0L243.6 1005.6L243.1 998.2L243.1 998.2L246.0 1005.0L248.4 1012.0L250.5 1019.1L252.5 1026.1L254.2 1033.0L255.5 1039.4L256.7 1048.1L257.3 1055.9L257.3 1063.5L256.9 1071.7L256.3 1078.8L255.4 1086.0L254.2 1093.5L252.8 1101.1L251.2 1108.9L249.6 1115.8L247.7 1122.9L245.7 1130.1L243.6 1137.3L241.7 1144.2L240.1 1150.9L238.2 1158.4L236.5 1165.4L235.0 1172.2L233.7 1179.1L232.8 1186.2L232.4 1194.0L232.2 1202.2L232.3 1210.5L232.5 1218.8L232.9 1226.8L233.4 1234.3L234.0 1241.5L234.7 1248.6L234.9 1256.0ZM246.7 1020.1L243.5 1013.3L241.0 1006.3L238.7 999.4L236.5 992.5L234.3 985.5L232.1 978.4L230.0 971.3L228.1 964.4L226.5 957.7L224.9 950.0L223.5 942.6L222.3 935.4L221.5 928.2L221.2 920.8L221.4 913.3L222.2 905.9L223.3 898.5L224.7 891.0L226.4 883.6L228.5 876.2L231.0 868.9L233.8 861.6L236.6 854.5L239.4 847.4L243.0 840.5L243.0 840.5L242.6 848.4L241.2 856.0L239.4 863.5L237.5 871.0L235.7 878.4L234.3 885.7L233.1 892.9L232.1 900.0L231.3 907.1L230.8 914.0L230.7 920.8L230.9 927.5L231.6 934.2L232.5 941.0L233.7 948.2L234.9 955.7L236.1 962.3L237.5 969.2L239.0 976.4L240.6 983.6L242.1 990.9L243.5 998.1L244.8 1005.3L246.1 1012.6L246.7 1020.1ZM231.0 877.0L232.2 869.3L234.2 861.8L236.3 854.4L238.1 847.0L239.7 839.6L241.3 832.2L242.7 824.8L243.9 817.7L244.7 810.9L245.5 803.1L245.8 795.8L245.7 788.6L245.1 780.9L244.2 774.4L242.9 767.5L241.3 760.3L239.5 753.0L237.8 745.8L235.9 738.7L233.8 731.6L231.6 724.4L229.5 717.1L227.6 709.8L225.7 702.6L223.7 695.3L221.8 687.8L220.4 680.0L219.7 671.8L219.9 663.1L220.8 654.1L222.1 645.1L223.7 636.6L225.5 629.1L228.4 619.6L231.9 611.9L235.5 603.2L237.8 596.8L240.4 589.7L243.5 582.5L243.5 582.5L242.4 590.3L240.8 597.6L239.1 604.4L236.2 613.3L233.3 621.0L231.0 630.4L229.8 637.7L228.7 645.9L227.8 654.6L227.3 663.2L227.5 671.3L228.4 678.7L230.0 685.9L232.0 693.0L234.1 700.1L236.2 707.3L238.3 714.5L240.5 721.7L242.8 729.0L245.0 736.2L247.0 743.5L248.8 750.9L250.5 758.4L252.1 765.9L253.3 773.2L254.2 780.3L254.6 788.5L254.4 796.3L253.8 804.0L252.6 812.1L251.4 819.1L249.7 826.4L247.8 833.8L245.6 841.3L243.4 848.6L240.8 855.9L237.9 863.0L234.7 870.1L231.0 877.0ZM226.9 629.4L227.9 619.4L230.3 611.4L232.9 602.3L234.4 595.7L236.2 588.6L238.0 581.1L239.8 573.6L241.5 566.2L242.9 558.9L244.3 551.5L245.5 544.1L246.5 537.1L247.2 530.7L247.8 521.8L247.6 514.1L246.1 506.3L243.7 499.8L240.3 492.9L236.3 485.8L232.6 479.0L228.0 470.8L223.5 463.1L219.4 455.4L215.0 447.5L211.7 439.3L209.5 431.0L209.3 422.5L209.3 422.5L212.9 430.1L216.5 437.5L220.8 444.9L224.8 452.5L229.5 459.8L234.5 467.1L239.6 475.0L243.7 481.7L248.1 488.9L252.1 496.4L255.1 503.9L256.9 512.9L257.2 521.5L256.6 531.2L255.8 538.0L254.6 545.3L253.1 552.9L251.4 560.5L249.6 567.9L247.5 575.3L245.1 582.9L242.6 590.3L240.2 597.4L237.8 603.9L234.2 612.7L230.6 620.2L226.9 629.4ZM220.7 444.9L215.5 437.9L212.3 430.3L210.2 422.4L209.0 414.3L209.5 406.2L211.7 398.2L215.5 390.3L220.7 382.8L225.6 377.3L231.5 371.9L237.9 367.0L244.4 362.9L250.9 359.1L257.9 355.8L265.4 353.6L273.4 353.5L280.1 355.6L286.6 359.2L292.6 364.5L292.6 364.5L285.2 362.8L278.8 361.1L273.2 360.5L266.9 361.6L261.1 364.3L255.4 367.9L249.8 371.8L244.0 376.0L238.4 380.7L233.4 385.4L229.3 389.9L224.8 396.1L221.4 402.3L219.1 408.3L218.1 414.5L218.0 421.3L218.5 428.6L219.7 436.3L220.7 444.9Z" fill="#ee9325" fill-rule="nonzero"/>
<text class="lbl" y="337" font-size="71"><tspan x="817.5" textLength="35.9" lengthAdjust="spacingAndGlyphs" style="stroke-width:0.55px">C</tspan><tspan x="853.4" textLength="333.6" lengthAdjust="spacingAndGlyphs" class="sm" style="font-size:49.7px;stroke-width:1.0px">onfiguration</tspan></text>
<path d="M357.5 666.0C377.1 664.8 434.6 660.6 475.0 658.8C515.4 656.9 558.3 655.9 600.0 655.0C641.7 654.1 690.4 654.2 725.0 653.5C759.6 652.8 793.8 651.4 807.5 651.0C843.1 651.0 871.0 674.8 871.0 705.0C870.6 713.3 870.8 738.3 868.8 755.0C866.7 771.7 861.0 788.3 858.8 805.0C856.5 821.7 855.6 846.7 855.0 855.0C855.0 878.0 836.3 896.0 812.5 896.0C806.2 896.1 793.8 894.4 775.0 896.5C756.2 898.6 720.8 906.1 700.0 908.8C679.2 911.4 666.7 912.7 650.0 912.5C633.3 912.3 616.7 909.6 600.0 907.5C583.3 905.4 566.7 901.5 550.0 900.0C533.3 898.5 525.0 898.6 500.0 898.8C475.0 898.9 423.8 900.4 400.0 900.8C376.2 901.1 364.6 900.8 357.5 900.8C338.6 900.8 323.8 882.8 323.8 860.0C323.6 846.7 323.3 806.7 323.0 780.0C322.7 753.3 322.2 713.3 322.0 700.0C322.0 681.0 337.6 666.0 357.5 666.0Z" fill="#fbfbfb" stroke="#ee8f20" stroke-width="2.4" stroke-linejoin="round"/>
<path d="M360.0 950.0C379.2 948.8 435.0 944.2 475.0 942.5C515.0 940.8 558.3 940.3 600.0 939.5C641.7 938.7 690.0 938.2 725.0 937.5C760.0 936.8 795.8 935.4 810.0 935.0C844.2 935.0 871.0 957.0 871.0 985.0C870.8 993.3 871.8 1014.2 870.0 1035.0C868.2 1055.8 862.4 1085.0 860.0 1110.0C857.6 1135.0 856.3 1168.3 855.5 1185.0C854.7 1201.7 855.1 1205.8 855.0 1210.0C855.0 1231.7 836.3 1248.8 812.5 1248.8C806.2 1248.8 793.8 1247.0 775.0 1249.0C756.2 1251.0 718.8 1258.3 700.0 1261.0C681.2 1263.7 679.2 1265.2 662.5 1265.0C645.8 1264.8 622.9 1262.3 600.0 1260.0C577.1 1257.7 554.2 1252.2 525.0 1251.0C495.8 1249.8 451.7 1252.4 425.0 1253.0C398.3 1253.6 375.0 1254.2 365.0 1254.5C343.2 1254.5 326.0 1234.9 326.0 1210.0C325.8 1191.7 325.4 1137.5 325.0 1100.0C324.6 1062.5 324.0 1004.2 323.8 985.0C323.8 965.4 339.7 950.0 360.0 950.0Z" fill="#fbfbfb" stroke="#ee8f20" stroke-width="2.4" stroke-linejoin="round"/>
<text class="lbl" y="810" font-size="71"><tspan x="427.5" textLength="33.1" lengthAdjust="spacingAndGlyphs" style="stroke-width:0.55px">E</tspan><tspan x="460.6" textLength="123.1" lengthAdjust="spacingAndGlyphs" class="sm" style="font-size:49.7px;stroke-width:1.0px">ntry</tspan><tspan x="583.7" textLength="33.1" lengthAdjust="spacingAndGlyphs" style="stroke-width:0.55px">P</tspan><tspan x="616.9" textLength="138.1" lengthAdjust="spacingAndGlyphs" class="sm" style="font-size:49.7px;stroke-width:1.0px">oints</tspan></text>
<text class="lbl" y="1024.5" font-size="71"><tspan x="445.0" textLength="33.1" lengthAdjust="spacingAndGlyphs" style="stroke-width:0.55px">P</tspan><tspan x="478.1" textLength="196.9" lengthAdjust="spacingAndGlyphs" class="sm" style="font-size:49.7px;stroke-width:1.0px">rovider</tspan></text>
<text class="lbl" y="1114.5" font-size="71"><tspan x="445.0" textLength="35.9" lengthAdjust="spacingAndGlyphs" style="stroke-width:0.55px">C</tspan><tspan x="480.9" textLength="272.1" lengthAdjust="spacingAndGlyphs" class="sm" style="font-size:49.7px;stroke-width:1.0px">onnection</tspan></text>
<text class="lbl" y="1203.75" font-size="71"><tspan x="447.5" textLength="13.8" lengthAdjust="spacingAndGlyphs" style="stroke-width:0.55px">I</tspan><tspan x="461.3" textLength="297.2" lengthAdjust="spacingAndGlyphs" class="sm" style="font-size:49.7px;stroke-width:1.0px">nformation</tspan></text>
<path d="M996.5 569.5C1006.5 574.5 1014.0 595.5 1013.5 625.5L1002.5 628.0C1006.0 611.5 1003.0 584.5 996.5 569.5ZM994.5 644.7C1004.5 649.7 1012.0 670.7 1011.5 700.7L1000.5 703.2C1004.0 686.7 1001.0 659.7 994.5 644.7ZM994.1 719.0C1004.1 724.0 1011.6 745.0 1011.1 775.0L1000.1 777.5C1003.6 761.0 1000.6 734.0 994.1 719.0ZM993.1 794.0C1003.1 799.0 1010.6 820.0 1010.1 850.0L999.1 852.5C1002.6 836.0 999.6 809.0 993.1 794.0ZM991.5 869.0C1001.5 874.0 1009.0 895.0 1008.5 925.0L997.5 927.5C1001.0 911.0 998.0 884.0 991.5 869.0ZM989.5 944.4C999.5 949.4 1007.0 970.4 1006.5 1000.4L995.5 1002.9C999.0 986.4 996.0 959.4 989.5 944.4ZM988.5 1019.0C998.5 1024.0 1006.0 1045.0 1005.5 1075.0L994.5 1077.5C998.0 1061.0 995.0 1034.0 988.5 1019.0ZM986.2 1094.4C996.2 1099.4 1003.7 1120.4 1003.2 1150.4L992.2 1152.9C995.7 1136.4 992.7 1109.4 986.2 1094.4ZM983.9 1169.5C993.9 1174.5 1001.4 1195.5 1000.9 1225.5L989.9 1228.0C993.4 1211.5 990.4 1184.5 983.9 1169.5ZM979.5 1244.4C989.5 1249.4 997.0 1270.4 996.5 1300.4L985.5 1302.9C989.0 1286.4 986.0 1259.4 979.5 1244.4ZM974.5 1319.5C984.5 1324.5 992.0 1345.5 991.5 1375.5L980.5 1378.0C984.0 1361.5 981.0 1334.5 974.5 1319.5ZM969.5 1394.0C979.5 1399.0 987.0 1420.0 986.5 1450.0L975.5 1452.5C979.0 1436.0 976.0 1409.0 969.5 1394.0ZM995.7 522.9C1005.7 525.4 1013.2 536.1 1012.7 551.4L1001.7 552.7C1005.2 544.3 1002.2 530.5 995.7 522.9ZM966.0 1469.0C976.0 1471.5 983.5 1482.2 983.0 1497.5L972.0 1498.8C975.5 1490.4 972.5 1476.6 966.0 1469.0Z" fill="#a0a2a7" filter="url(#rough2)"/>
<path d="M1158.5 1166.0C1173.1 1166.3 1216.4 1167.3 1246.0 1168.0C1275.6 1168.7 1304.3 1170.2 1336.0 1170.0C1367.7 1169.8 1404.8 1168.2 1436.0 1167.0C1467.2 1165.8 1508.9 1163.7 1523.5 1163.0C1550.7 1163.0 1572.0 1181.9 1572.0 1206.0C1572.5 1215.2 1574.0 1241.4 1575.0 1261.0C1576.0 1280.6 1577.5 1313.1 1578.0 1323.5C1578.0 1345.1 1554.0 1362.0 1523.5 1362.0C1508.9 1363.1 1470.6 1366.2 1436.0 1368.5C1401.4 1370.8 1356.4 1376.7 1316.0 1376.0C1275.6 1375.3 1219.8 1366.5 1193.5 1364.5C1167.2 1362.5 1164.3 1364.1 1158.5 1364.0C1135.3 1364.0 1117.0 1346.0 1117.0 1323.0C1117.5 1312.7 1119.0 1281.8 1120.0 1261.0C1121.0 1240.2 1122.5 1208.5 1123.0 1198.0C1123.0 1180.1 1138.6 1166.0 1158.5 1166.0Z" fill="#fbfbfb" stroke="#ee8f20" stroke-width="2.0" stroke-linejoin="round"/><path d="M1130.5 1225.0C1145.1 1225.3 1188.4 1226.3 1218.0 1227.0C1247.6 1227.7 1276.3 1229.2 1308.0 1229.0C1339.7 1228.8 1376.8 1227.2 1408.0 1226.0C1439.2 1224.8 1480.9 1222.7 1495.5 1222.0C1522.7 1222.0 1544.0 1240.9 1544.0 1265.0C1544.5 1274.2 1546.0 1300.4 1547.0 1320.0C1548.0 1339.6 1549.5 1372.1 1550.0 1382.5C1550.0 1404.1 1526.0 1421.0 1495.5 1421.0C1480.9 1422.1 1442.6 1425.2 1408.0 1427.5C1373.4 1429.8 1328.4 1435.7 1288.0 1435.0C1247.6 1434.3 1191.8 1425.5 1165.5 1423.5C1139.2 1421.5 1136.3 1423.1 1130.5 1423.0C1107.3 1423.0 1089.0 1405.0 1089.0 1382.0C1089.5 1371.7 1091.0 1340.8 1092.0 1320.0C1093.0 1299.2 1094.5 1267.5 1095.0 1257.0C1095.0 1239.1 1110.6 1225.0 1130.5 1225.0Z" fill="#fbfbfb" stroke="#ee8f20" stroke-width="2.2" stroke-linejoin="round"/><path d="M1086.5 1271.0C1101.1 1271.3 1144.4 1272.3 1174.0 1273.0C1203.6 1273.7 1232.3 1275.2 1264.0 1275.0C1295.7 1274.8 1332.8 1273.2 1364.0 1272.0C1395.2 1270.8 1436.9 1268.7 1451.5 1268.0C1478.7 1268.0 1500.0 1286.9 1500.0 1311.0C1500.5 1320.2 1502.0 1346.4 1503.0 1366.0C1504.0 1385.6 1505.5 1418.1 1506.0 1428.5C1506.0 1450.1 1482.0 1467.0 1451.5 1467.0C1436.9 1468.1 1398.6 1471.2 1364.0 1473.5C1329.4 1475.8 1284.4 1481.7 1244.0 1481.0C1203.6 1480.3 1147.8 1471.5 1121.5 1469.5C1095.2 1467.5 1092.3 1469.1 1086.5 1469.0C1063.3 1469.0 1045.0 1451.0 1045.0 1428.0C1045.5 1417.7 1047.0 1386.8 1048.0 1366.0C1049.0 1345.2 1050.5 1313.5 1051.0 1303.0C1051.0 1285.1 1066.6 1271.0 1086.5 1271.0Z" fill="#fbfbfb" stroke="#ee8f20" stroke-width="2.6" stroke-linejoin="round"/>
<path d="M1168.0 948.0C1182.6 948.3 1225.9 949.3 1255.5 950.0C1285.1 950.7 1313.8 952.2 1345.5 952.0C1377.2 951.8 1414.2 950.2 1445.5 949.0C1476.8 947.8 1518.4 945.7 1533.0 945.0C1560.2 945.0 1581.5 963.9 1581.5 988.0C1582.0 997.2 1583.5 1023.4 1584.5 1043.0C1585.5 1062.6 1587.0 1095.1 1587.5 1105.5C1587.5 1127.1 1563.5 1144.0 1533.0 1144.0C1518.4 1145.1 1480.1 1148.2 1445.5 1150.5C1410.9 1152.8 1365.9 1158.7 1325.5 1158.0C1285.1 1157.3 1229.2 1148.5 1203.0 1146.5C1176.8 1144.5 1173.8 1146.1 1168.0 1146.0C1144.8 1146.0 1126.5 1128.0 1126.5 1105.0C1127.0 1094.7 1128.5 1063.8 1129.5 1043.0C1130.5 1022.2 1132.0 990.5 1132.5 980.0C1132.5 962.1 1148.1 948.0 1168.0 948.0Z" fill="#fbfbfb" stroke="#ee8f20" stroke-width="2.0" stroke-linejoin="round"/><path d="M1140.0 1007.0C1154.6 1007.3 1197.9 1008.3 1227.5 1009.0C1257.1 1009.7 1285.8 1011.2 1317.5 1011.0C1349.2 1010.8 1386.2 1009.2 1417.5 1008.0C1448.8 1006.8 1490.4 1004.7 1505.0 1004.0C1532.2 1004.0 1553.5 1022.9 1553.5 1047.0C1554.0 1056.2 1555.5 1082.4 1556.5 1102.0C1557.5 1121.6 1559.0 1154.1 1559.5 1164.5C1559.5 1186.1 1535.5 1203.0 1505.0 1203.0C1490.4 1204.1 1452.1 1207.2 1417.5 1209.5C1382.9 1211.8 1337.9 1217.7 1297.5 1217.0C1257.1 1216.3 1201.2 1207.5 1175.0 1205.5C1148.8 1203.5 1145.8 1205.1 1140.0 1205.0C1116.8 1205.0 1098.5 1187.0 1098.5 1164.0C1099.0 1153.7 1100.5 1122.8 1101.5 1102.0C1102.5 1081.2 1104.0 1049.5 1104.5 1039.0C1104.5 1021.1 1120.1 1007.0 1140.0 1007.0Z" fill="#fbfbfb" stroke="#ee8f20" stroke-width="2.2" stroke-linejoin="round"/><path d="M1096.0 1053.0C1110.6 1053.3 1153.9 1054.3 1183.5 1055.0C1213.1 1055.7 1241.8 1057.2 1273.5 1057.0C1305.2 1056.8 1342.2 1055.2 1373.5 1054.0C1404.8 1052.8 1446.4 1050.7 1461.0 1050.0C1488.2 1050.0 1509.5 1068.9 1509.5 1093.0C1510.0 1102.2 1511.5 1128.4 1512.5 1148.0C1513.5 1167.6 1515.0 1200.1 1515.5 1210.5C1515.5 1232.1 1491.5 1249.0 1461.0 1249.0C1446.4 1250.1 1408.1 1253.2 1373.5 1255.5C1338.9 1257.8 1293.9 1263.7 1253.5 1263.0C1213.1 1262.3 1157.2 1253.5 1131.0 1251.5C1104.8 1249.5 1101.8 1251.1 1096.0 1251.0C1072.8 1251.0 1054.5 1233.0 1054.5 1210.0C1055.0 1199.7 1056.5 1168.8 1057.5 1148.0C1058.5 1127.2 1060.0 1095.5 1060.5 1085.0C1060.5 1067.1 1076.1 1053.0 1096.0 1053.0Z" fill="#fbfbfb" stroke="#ee8f20" stroke-width="2.6" stroke-linejoin="round"/>
<path d="M1166.0 704.5C1180.6 704.8 1223.9 705.8 1253.5 706.5C1283.1 707.2 1311.8 708.7 1343.5 708.5C1375.2 708.3 1412.2 706.7 1443.5 705.5C1474.8 704.3 1516.4 702.2 1531.0 701.5C1558.2 701.5 1579.5 720.4 1579.5 744.5C1580.0 753.7 1581.5 779.9 1582.5 799.5C1583.5 819.1 1585.0 851.6 1585.5 862.0C1585.5 883.6 1561.5 900.5 1531.0 900.5C1516.4 901.6 1478.1 904.7 1443.5 907.0C1408.9 909.3 1363.9 915.2 1323.5 914.5C1283.1 913.8 1227.2 905.0 1201.0 903.0C1174.8 901.0 1171.8 902.6 1166.0 902.5C1142.8 902.5 1124.5 884.5 1124.5 861.5C1125.0 851.2 1126.5 820.3 1127.5 799.5C1128.5 778.7 1130.0 747.0 1130.5 736.5C1130.5 718.6 1146.1 704.5 1166.0 704.5Z" fill="#fbfbfb" stroke="#ee8f20" stroke-width="2.0" stroke-linejoin="round"/><path d="M1138.0 763.5C1152.6 763.8 1195.9 764.8 1225.5 765.5C1255.1 766.2 1283.8 767.7 1315.5 767.5C1347.2 767.3 1384.2 765.7 1415.5 764.5C1446.8 763.3 1488.4 761.2 1503.0 760.5C1530.2 760.5 1551.5 779.4 1551.5 803.5C1552.0 812.7 1553.5 838.9 1554.5 858.5C1555.5 878.1 1557.0 910.6 1557.5 921.0C1557.5 942.6 1533.5 959.5 1503.0 959.5C1488.4 960.6 1450.1 963.7 1415.5 966.0C1380.9 968.3 1335.9 974.2 1295.5 973.5C1255.1 972.8 1199.2 964.0 1173.0 962.0C1146.8 960.0 1143.8 961.6 1138.0 961.5C1114.8 961.5 1096.5 943.5 1096.5 920.5C1097.0 910.2 1098.5 879.3 1099.5 858.5C1100.5 837.7 1102.0 806.0 1102.5 795.5C1102.5 777.6 1118.1 763.5 1138.0 763.5Z" fill="#fbfbfb" stroke="#ee8f20" stroke-width="2.2" stroke-linejoin="round"/><path d="M1094.0 809.5C1108.6 809.8 1151.9 810.8 1181.5 811.5C1211.1 812.2 1239.8 813.7 1271.5 813.5C1303.2 813.3 1340.2 811.7 1371.5 810.5C1402.8 809.3 1444.4 807.2 1459.0 806.5C1486.2 806.5 1507.5 825.4 1507.5 849.5C1508.0 858.7 1509.5 884.9 1510.5 904.5C1511.5 924.1 1513.0 956.6 1513.5 967.0C1513.5 988.6 1489.5 1005.5 1459.0 1005.5C1444.4 1006.6 1406.1 1009.7 1371.5 1012.0C1336.9 1014.3 1291.9 1020.2 1251.5 1019.5C1211.1 1018.8 1155.2 1010.0 1129.0 1008.0C1102.8 1006.0 1099.8 1007.6 1094.0 1007.5C1070.8 1007.5 1052.5 989.5 1052.5 966.5C1053.0 956.2 1054.5 925.3 1055.5 904.5C1056.5 883.7 1058.0 852.0 1058.5 841.5C1058.5 823.6 1074.1 809.5 1094.0 809.5Z" fill="#fbfbfb" stroke="#ee8f20" stroke-width="2.6" stroke-linejoin="round"/>
<path d="M1174.5 425.0C1189.1 425.3 1232.4 426.3 1262.0 427.0C1291.6 427.7 1320.3 429.2 1352.0 429.0C1383.7 428.8 1420.8 427.2 1452.0 426.0C1483.2 424.8 1524.9 422.7 1539.5 422.0C1566.7 422.0 1588.0 440.9 1588.0 465.0C1588.5 474.2 1590.0 500.4 1591.0 520.0C1592.0 539.6 1593.5 572.1 1594.0 582.5C1594.0 604.1 1570.0 621.0 1539.5 621.0C1524.9 622.1 1486.6 625.2 1452.0 627.5C1417.4 629.8 1372.4 635.7 1332.0 635.0C1291.6 634.3 1235.8 625.5 1209.5 623.5C1183.2 621.5 1180.3 623.1 1174.5 623.0C1151.3 623.0 1133.0 605.0 1133.0 582.0C1133.5 571.7 1135.0 540.8 1136.0 520.0C1137.0 499.2 1138.5 467.5 1139.0 457.0C1139.0 439.1 1154.6 425.0 1174.5 425.0Z" fill="#fbfbfb" stroke="#ee8f20" stroke-width="2.0" stroke-linejoin="round"/><path d="M1146.5 484.0C1161.1 484.3 1204.4 485.3 1234.0 486.0C1263.6 486.7 1292.3 488.2 1324.0 488.0C1355.7 487.8 1392.8 486.2 1424.0 485.0C1455.2 483.8 1496.9 481.7 1511.5 481.0C1538.7 481.0 1560.0 499.9 1560.0 524.0C1560.5 533.2 1562.0 559.4 1563.0 579.0C1564.0 598.6 1565.5 631.1 1566.0 641.5C1566.0 663.1 1542.0 680.0 1511.5 680.0C1496.9 681.1 1458.6 684.2 1424.0 686.5C1389.4 688.8 1344.4 694.7 1304.0 694.0C1263.6 693.3 1207.8 684.5 1181.5 682.5C1155.2 680.5 1152.3 682.1 1146.5 682.0C1123.3 682.0 1105.0 664.0 1105.0 641.0C1105.5 630.7 1107.0 599.8 1108.0 579.0C1109.0 558.2 1110.5 526.5 1111.0 516.0C1111.0 498.1 1126.6 484.0 1146.5 484.0Z" fill="#fbfbfb" stroke="#ee8f20" stroke-width="2.2" stroke-linejoin="round"/><path d="M1102.5 530.0C1117.1 530.3 1160.4 531.3 1190.0 532.0C1219.6 532.7 1248.3 534.2 1280.0 534.0C1311.7 533.8 1348.8 532.2 1380.0 531.0C1411.2 529.8 1452.9 527.7 1467.5 527.0C1494.7 527.0 1516.0 545.9 1516.0 570.0C1516.5 579.2 1518.0 605.4 1519.0 625.0C1520.0 644.6 1521.5 677.1 1522.0 687.5C1522.0 709.1 1498.0 726.0 1467.5 726.0C1452.9 727.1 1414.6 730.2 1380.0 732.5C1345.4 734.8 1300.4 740.7 1260.0 740.0C1219.6 739.3 1163.8 730.5 1137.5 728.5C1111.2 726.5 1108.3 728.1 1102.5 728.0C1079.3 728.0 1061.0 710.0 1061.0 687.0C1061.5 676.7 1063.0 645.8 1064.0 625.0C1065.0 604.2 1066.5 572.5 1067.0 562.0C1067.0 544.1 1082.6 530.0 1102.5 530.0Z" fill="#fbfbfb" stroke="#ee8f20" stroke-width="2.6" stroke-linejoin="round"/>
<text class="lbl" y="652.5" font-size="71"><tspan x="1183.7" textLength="35.9" lengthAdjust="spacingAndGlyphs" style="stroke-width:0.55px">R</tspan><tspan x="1219.6" textLength="181.6" lengthAdjust="spacingAndGlyphs" class="sm" style="font-size:49.7px;stroke-width:1.0px">outers</tspan></text>
<text class="lbl" y="931.2" font-size="71"><tspan x="1175.0" textLength="33.1" lengthAdjust="spacingAndGlyphs" style="stroke-width:0.55px">S</tspan><tspan x="1208.1" textLength="193.1" lengthAdjust="spacingAndGlyphs" class="sm" style="font-size:49.7px;stroke-width:1.0px">ervices</tspan></text>
<text class="lbl" y="1176.2" font-size="71"><tspan x="1126.2" textLength="41.4" lengthAdjust="spacingAndGlyphs" style="stroke-width:0.55px">M</tspan><tspan x="1167.6" textLength="284.9" lengthAdjust="spacingAndGlyphs" class="sm" style="font-size:49.7px;stroke-width:1.0px">iddlewares</tspan></text>
<text class="lbl" y="1361.2" font-size="71"><tspan x="1108.7" textLength="35.9" lengthAdjust="spacingAndGlyphs" style="stroke-width:0.55px">C</tspan><tspan x="1144.6" textLength="288.4" lengthAdjust="spacingAndGlyphs" class="sm" style="font-size:49.7px;stroke-width:1.0px">ertificates</tspan></text>
<text class="lbl" y="1431.2" font-size="56.3"><tspan x="1107.5" textLength="26.3" lengthAdjust="spacingAndGlyphs" style="stroke-width:0.55px">S</tspan><tspan x="1133.8" textLength="116.2" lengthAdjust="spacingAndGlyphs" class="sm" style="font-size:39.4px;stroke-width:1.0px">tores</tspan> <tspan x="1268.7" textLength="25.0" lengthAdjust="spacingAndGlyphs" style="stroke-width:0.55px">&amp;</tspan> <tspan x="1312.5" textLength="30.7" lengthAdjust="spacingAndGlyphs" style="stroke-width:0.55px">O</tspan><tspan x="1343.2" textLength="128.0" lengthAdjust="spacingAndGlyphs" class="sm" style="font-size:39.4px;stroke-width:1.0px">ptions</tspan></text>
<text class="lbl" y="1557.3" font-size="71"><tspan x="319.0" textLength="33.1" lengthAdjust="spacingAndGlyphs" style="stroke-width:0.55px">S</tspan><tspan x="352.1" textLength="139.1" lengthAdjust="spacingAndGlyphs" class="sm" style="font-size:49.7px;stroke-width:1.0px">tatic</tspan> <tspan x="517.5" textLength="16.6" lengthAdjust="spacingAndGlyphs" style="stroke-width:1.5px">(</tspan><tspan x="534.1" textLength="218.3" lengthAdjust="spacingAndGlyphs" class="sm" style="font-size:49.7px;stroke-width:1.0px">startup</tspan> <tspan x="774.3" textLength="113.3" lengthAdjust="spacingAndGlyphs" class="sm" style="font-size:49.7px;stroke-width:1.0px">time</tspan><tspan x="887.6" textLength="16.6" lengthAdjust="spacingAndGlyphs" style="stroke-width:1.5px">)</tspan></text>
<text class="lbl" y="1557.3" font-size="71"><tspan x="1023.4" textLength="35.9" lengthAdjust="spacingAndGlyphs" style="stroke-width:0.55px">D</tspan><tspan x="1059.3" textLength="168.4" lengthAdjust="spacingAndGlyphs" class="sm" style="font-size:49.7px;stroke-width:1.0px">ynamic</tspan> <tspan x="1254.0" textLength="16.6" lengthAdjust="spacingAndGlyphs" style="stroke-width:1.5px">(</tspan><tspan x="1270.6" textLength="46.9" lengthAdjust="spacingAndGlyphs" style="stroke-width:0.55px">W</tspan><tspan x="1317.5" textLength="89.5" lengthAdjust="spacingAndGlyphs" class="sm" style="font-size:49.7px;stroke-width:1.0px">hile</tspan> <tspan x="1430.5" textLength="35.9" lengthAdjust="spacingAndGlyphs" style="stroke-width:0.55px">R</tspan><tspan x="1466.4" textLength="176.8" lengthAdjust="spacingAndGlyphs" class="sm" style="font-size:49.7px;stroke-width:1.0px">unning</tspan><tspan x="1643.1" textLength="16.6" lengthAdjust="spacingAndGlyphs" style="stroke-width:1.5px">)</tspan></text>
<path d="M2403.0 264.0C2413.3 264.3 2444.9 265.5 2465.0 266.0C2485.1 266.5 2503.8 267.2 2523.8 267.0C2543.8 266.8 2564.6 265.5 2585.0 264.5C2605.4 263.5 2636.2 261.6 2646.5 261.0C2668.3 261.0 2685.5 281.7 2685.5 308.0C2685.8 321.0 2687.0 364.8 2687.5 385.9C2688.0 407.0 2688.2 426.5 2688.4 434.6C2688.4 466.2 2670.0 491.0 2646.5 491.0C2635.8 490.3 2602.4 488.3 2582.0 487.0C2561.6 485.7 2543.2 483.3 2523.8 483.0C2504.4 482.7 2484.9 484.0 2465.4 485.2C2445.9 486.4 2416.7 489.2 2407.0 490.0C2378.0 490.0 2355.3 465.6 2355.3 434.6C2355.1 424.2 2354.4 392.5 2354.0 372.0C2353.6 351.5 2352.9 321.8 2352.7 311.8C2352.7 285.0 2374.8 264.0 2403.0 264.0Z" fill="#fbfbfb" stroke="#ee8f20" stroke-width="2.4" stroke-linejoin="round"/>
<path d="M2383.5 771.2C2392.9 771.9 2421.5 774.3 2440.0 775.5C2458.5 776.7 2474.6 778.7 2494.6 778.6C2514.6 778.5 2538.9 776.6 2560.0 775.0C2581.1 773.4 2611.0 770.2 2621.2 769.2C2650.7 769.2 2673.8 792.3 2673.8 821.8C2673.7 830.9 2673.9 854.3 2672.9 876.4C2671.9 898.5 2668.8 941.3 2668.0 954.3C2668.0 981.0 2647.4 1002.0 2621.2 1002.0C2611.5 1001.2 2582.3 998.7 2562.8 997.2C2543.3 995.7 2523.8 993.4 2504.3 992.9C2484.8 992.4 2466.0 993.8 2445.9 994.3C2425.8 994.8 2393.9 995.9 2383.5 996.2C2358.4 996.2 2338.7 973.5 2338.7 944.6C2339.0 933.8 2339.8 900.5 2340.5 880.0C2341.2 859.5 2342.2 831.5 2342.6 821.8C2342.6 793.5 2360.6 771.2 2383.5 771.2Z" fill="#fbfbfb" stroke="#ee8f20" stroke-width="2.4" stroke-linejoin="round"/>
<text class="lbl" y="389.8" font-size="71"><tspan x="2415.7" textLength="28.4" lengthAdjust="spacingAndGlyphs" style="stroke-width:0.9px">P</tspan><tspan x="2444.1" textLength="161.5" lengthAdjust="spacingAndGlyphs" class="sm" style="font-size:49.7px;stroke-width:1.7px">rovider</tspan> <tspan x="2626.0" textLength="18.6" lengthAdjust="spacingAndGlyphs" style="stroke-width:0.9px">1</tspan></text>
<text class="lbl" y="903.3" font-size="71"><tspan x="2393.3" textLength="28.4" lengthAdjust="spacingAndGlyphs" style="stroke-width:0.9px">P</tspan><tspan x="2421.7" textLength="161.5" lengthAdjust="spacingAndGlyphs" class="sm" style="font-size:49.7px;stroke-width:1.7px">rovider</tspan> <tspan x="2603.7" textLength="26.3" lengthAdjust="spacingAndGlyphs" style="stroke-width:0.9px">2</tspan></text>
<text class="lbl" y="418.8" font-size="71"><tspan x="1898.8" textLength="84.1" lengthAdjust="spacingAndGlyphs" style="stroke-width:0.6px">API</tspan> <tspan x="2008.2" textLength="34.9" lengthAdjust="spacingAndGlyphs" style="stroke-width:0.6px">C</tspan><tspan x="2043.1" textLength="69.2" lengthAdjust="spacingAndGlyphs" class="sm" style="font-size:49.7px;stroke-width:1.4px">all</tspan></text>
<g filter="url(#rough)"><path d="M1742.7 481.2L1740.8 473.9L1739.9 464.0L1741.2 457.2L1743.7 450.1L1747.9 442.3L1750.6 438.1L1753.6 433.6L1757.0 428.9L1761.1 424.1L1766.1 419.3L1772.0 414.7L1776.2 411.9L1780.6 409.1L1785.3 406.4L1790.4 403.6L1795.7 400.9L1801.3 398.1L1807.2 395.4L1813.3 392.7L1819.7 390.1L1826.3 387.5L1831.6 385.5L1837.2 383.5L1843.0 381.5L1849.0 379.5L1855.2 377.5L1861.5 375.6L1867.9 373.7L1874.4 371.8L1880.9 369.9L1887.4 368.0L1893.8 366.2L1900.1 364.4L1906.3 362.6L1912.5 360.9L1918.7 359.2L1924.8 357.5L1931.0 355.8L1937.1 354.2L1943.3 352.6L1949.5 351.0L1955.6 349.5L1961.8 347.9L1967.9 346.4L1974.1 344.9L1980.3 343.5L1986.4 342.0L1992.7 340.6L1999.0 339.2L2005.5 337.8L2012.0 336.4L2018.5 335.0L2025.0 333.7L2031.4 332.4L2037.7 331.1L2043.9 329.9L2049.9 328.7L2055.7 327.6L2061.3 326.6L2066.6 325.7L2074.5 324.3L2081.8 323.1L2088.5 322.1L2094.8 321.3L2101.0 320.5L2107.1 319.8L2113.3 319.1L2119.8 318.4L2126.4 317.7L2133.2 317.0L2139.9 316.3L2146.7 315.7L2153.4 315.1L2160.2 314.7L2166.9 314.4L2173.7 314.2L2180.4 314.3L2187.1 314.4L2193.8 314.7L2200.5 315.1L2207.1 315.6L2213.8 316.2L2220.4 316.8L2227.1 317.4L2234.0 318.1L2241.1 319.0L2248.2 319.9L2255.4 320.9L2262.3 322.0L2269.0 322.4L2275.1 323.3L2280.7 324.1L2288.6 325.4L2295.7 326.7L2301.7 327.9L2306.6 329.0L2310.3 329.7L2309.7 332.3L2306.1 331.5L2301.2 330.5L2295.2 329.3L2288.2 328.0L2280.3 326.7L2274.8 325.9L2268.6 325.0L2262.1 323.6L2255.1 322.8L2248.0 322.0L2240.8 321.2L2233.7 320.6L2226.9 320.0L2220.2 319.5L2213.6 319.0L2206.9 318.6L2200.3 318.2L2193.6 317.9L2187.0 317.7L2180.4 317.7L2173.7 317.8L2167.1 318.0L2160.4 318.4L2153.7 318.9L2147.0 319.6L2140.3 320.3L2133.6 321.0L2126.9 321.8L2120.2 322.6L2113.8 323.4L2107.6 324.1L2101.5 324.9L2095.4 325.7L2089.2 326.7L2082.5 327.7L2075.3 328.9L2067.4 330.3L2062.2 331.3L2056.6 332.4L2050.8 333.5L2044.8 334.7L2038.7 335.9L2032.4 337.2L2026.0 338.5L2019.5 339.9L2013.0 341.3L2006.6 342.7L2000.1 344.1L1993.8 345.6L1987.6 347.0L1981.4 348.4L1975.3 349.9L1969.1 351.4L1963.0 352.9L1956.8 354.4L1950.7 355.9L1944.6 357.5L1938.4 359.1L1932.3 360.7L1926.1 362.3L1920.0 364.0L1913.8 365.7L1907.7 367.4L1901.4 369.1L1895.1 370.8L1888.7 372.6L1882.2 374.4L1875.7 376.2L1869.2 378.1L1862.8 379.9L1856.5 381.8L1850.4 383.7L1844.4 385.6L1838.6 387.5L1833.0 389.4L1827.7 391.3L1821.2 393.9L1814.8 396.4L1808.7 399.0L1802.9 401.6L1797.3 404.2L1792.0 406.8L1787.0 409.5L1782.3 412.1L1778.0 414.7L1774.0 417.3L1768.1 421.7L1763.3 426.2L1759.3 430.8L1755.9 435.2L1752.9 439.6L1750.1 443.7L1745.9 451.1L1743.4 457.8L1742.1 464.0L1742.7 473.7L1744.3 480.8Z" fill="#000"/><path d="M2380.8 496.7L2382.8 501.9L2385.4 509.5L2386.0 517.7L2384.7 523.7L2382.3 529.9L2378.7 536.2L2374.0 542.4L2369.9 546.6L2365.2 550.7L2359.9 554.9L2354.4 559.0L2348.8 562.9L2343.3 566.8L2338.2 570.3L2333.4 573.5L2328.5 576.7L2323.1 580.0L2316.7 583.5L2309.0 587.6L2304.5 589.8L2299.6 592.3L2294.3 594.8L2288.7 597.5L2282.9 600.2L2276.9 603.0L2270.8 605.7L2264.7 608.5L2258.5 611.2L2252.4 613.9L2246.4 616.4L2240.6 618.8L2234.9 621.0L2229.2 623.2L2223.4 625.3L2217.7 627.4L2212.0 629.4L2206.3 631.3L2200.6 633.3L2194.9 635.2L2189.2 637.1L2183.5 639.0L2177.9 641.0L2172.2 642.9L2166.5 645.0L2160.8 647.0L2155.1 649.1L2149.4 651.1L2143.7 653.2L2138.0 655.2L2132.3 657.3L2126.6 659.3L2120.9 661.3L2115.2 663.3L2109.5 665.2L2103.8 667.1L2097.5 669.1L2091.3 671.1L2085.1 673.0L2078.9 674.8L2072.6 676.7L2066.4 678.5L2060.2 680.3L2054.0 682.2L2047.8 684.0L2041.5 685.8L2035.3 687.6L2029.1 689.5L2022.9 691.4L2016.7 693.3L2010.5 695.1L2004.2 697.0L1998.0 698.9L1991.8 700.8L1985.6 702.6L1979.3 704.5L1973.1 706.3L1966.9 708.1L1960.7 709.9L1954.4 711.7L1948.2 713.5L1942.0 715.3L1935.8 717.1L1929.5 718.8L1923.3 720.5L1917.1 722.2L1910.8 723.8L1904.6 725.3L1898.3 726.7L1892.1 728.1L1885.8 729.3L1879.6 730.5L1873.3 731.7L1867.1 732.8L1860.8 733.8L1854.6 734.8L1848.4 735.7L1842.1 736.7L1835.9 737.6L1829.7 738.5L1823.5 739.4L1817.2 740.2L1811.0 741.1L1804.8 741.9L1798.5 742.6L1792.3 743.4L1786.1 744.1L1779.9 744.8L1773.6 745.4L1767.4 746.0L1761.2 746.6L1754.9 747.2L1748.5 747.8L1742.1 748.3L1735.7 748.8L1729.2 749.3L1722.9 749.7L1716.6 750.1L1710.3 750.5L1704.3 750.8L1698.4 751.1L1692.7 751.4L1685.7 751.6L1678.5 752.1L1671.4 752.2L1664.4 752.3L1657.8 752.3L1651.6 752.4L1646.2 752.4L1641.6 752.4L1638.0 752.4L1638.0 749.6L1641.6 749.6L1646.2 749.6L1651.6 749.6L1657.8 749.5L1664.4 749.5L1671.3 749.4L1678.5 749.3L1685.6 749.4L1692.5 749.0L1698.2 748.7L1704.1 748.3L1710.2 747.9L1716.4 747.4L1722.7 746.9L1729.0 746.4L1735.4 745.8L1741.8 745.2L1748.2 744.6L1754.6 744.0L1760.8 743.4L1767.0 742.7L1773.3 742.0L1779.5 741.3L1785.7 740.5L1791.9 739.7L1798.1 738.9L1804.3 738.1L1810.5 737.3L1816.7 736.4L1822.9 735.5L1829.1 734.5L1835.3 733.5L1841.5 732.6L1847.7 731.6L1853.9 730.6L1860.1 729.5L1866.3 728.5L1872.5 727.3L1878.7 726.2L1884.9 724.9L1891.1 723.6L1897.3 722.3L1903.5 720.8L1909.7 719.3L1915.9 717.6L1922.0 716.0L1928.2 714.2L1934.4 712.4L1940.7 710.6L1946.9 708.8L1953.1 707.0L1959.3 705.1L1965.5 703.3L1971.7 701.5L1977.9 699.7L1984.1 697.8L1990.4 696.0L1996.6 694.1L2002.8 692.2L2009.0 690.3L2015.2 688.4L2021.4 686.5L2027.6 684.6L2033.9 682.8L2040.1 680.9L2046.3 679.1L2052.5 677.3L2058.8 675.4L2065.0 673.6L2071.2 671.8L2077.4 670.0L2083.6 668.1L2089.8 666.2L2096.0 664.3L2102.2 662.3L2107.9 660.4L2113.6 658.5L2119.3 656.6L2125.0 654.6L2130.7 652.6L2136.4 650.6L2142.1 648.6L2147.8 646.5L2153.5 644.5L2159.2 642.5L2164.9 640.5L2170.6 638.5L2176.3 636.5L2182.1 634.6L2187.8 632.7L2193.5 630.8L2199.2 628.9L2204.9 627.0L2210.6 625.1L2216.3 623.2L2222.0 621.2L2227.6 619.1L2233.3 617.0L2239.0 614.8L2244.8 612.5L2250.8 610.0L2256.9 607.5L2263.1 604.8L2269.2 602.1L2275.3 599.4L2281.3 596.7L2287.1 594.1L2292.7 591.5L2298.0 589.0L2302.9 586.6L2307.4 584.4L2315.1 580.5L2321.4 577.1L2326.8 573.9L2331.7 570.9L2336.4 567.7L2341.5 564.2L2347.1 560.5L2352.7 556.6L2358.3 552.7L2363.5 548.7L2368.1 544.7L2372.0 540.8L2376.7 534.9L2380.2 528.9L2382.6 523.0L2384.0 517.5L2383.5 509.9L2381.1 502.5L2379.2 497.3Z" fill="#000"/></g><path d="M2336.5 332.6L2303 311.5L2308.5 329.4L2300.5 350.0Z" fill="#000"/><path d="M1608.8 751.2L1641.3 730.3L1637.9 751.2L1645.4 768.0Z" fill="#000"/>
<g filter="url(#rough)"><path d="M1742.7 979.2L1740.8 971.9L1739.9 962.0L1741.2 955.2L1743.7 948.1L1747.9 940.3L1750.6 936.1L1753.6 931.6L1757.0 926.9L1761.1 922.1L1766.1 917.3L1772.0 912.7L1776.2 909.9L1780.6 907.1L1785.3 904.4L1790.4 901.6L1795.7 898.9L1801.3 896.1L1807.2 893.4L1813.3 890.7L1819.7 888.1L1826.3 885.5L1831.6 883.5L1837.2 881.5L1843.0 879.5L1849.0 877.5L1855.2 875.5L1861.5 873.6L1867.9 871.7L1874.4 869.8L1880.9 867.9L1887.4 866.0L1893.8 864.2L1900.1 862.4L1906.3 860.6L1912.5 858.9L1918.7 857.2L1924.8 855.5L1931.0 853.8L1937.1 852.2L1943.3 850.6L1949.5 849.0L1955.6 847.5L1961.8 845.9L1967.9 844.4L1974.1 842.9L1980.3 841.5L1986.4 840.0L1992.7 838.6L1999.0 837.2L2005.5 835.8L2012.0 834.4L2018.5 833.0L2025.0 831.7L2031.4 830.4L2037.7 829.1L2043.9 827.9L2049.9 826.7L2055.7 825.6L2061.3 824.6L2066.6 823.7L2074.5 822.3L2081.8 821.1L2088.5 820.1L2094.8 819.3L2101.0 818.5L2107.1 817.8L2113.3 817.1L2119.8 816.4L2126.4 815.7L2133.2 815.0L2139.9 814.3L2146.7 813.7L2153.4 813.1L2160.2 812.7L2166.9 812.4L2173.7 812.2L2180.4 812.3L2187.1 812.4L2193.8 812.7L2200.5 813.1L2207.1 813.6L2213.8 814.2L2220.4 814.8L2227.1 815.4L2234.0 816.1L2241.1 817.0L2248.2 817.9L2255.4 818.9L2262.3 820.0L2269.0 820.4L2275.1 821.3L2280.7 822.1L2288.6 823.4L2295.7 824.7L2301.7 825.9L2306.6 827.0L2310.3 827.7L2309.7 830.3L2306.1 829.5L2301.2 828.5L2295.2 827.3L2288.2 826.0L2280.3 824.7L2274.8 823.9L2268.6 823.0L2262.1 821.6L2255.1 820.8L2248.0 820.0L2240.8 819.2L2233.7 818.6L2226.9 818.0L2220.2 817.5L2213.6 817.0L2206.9 816.6L2200.3 816.2L2193.6 815.9L2187.0 815.7L2180.4 815.7L2173.7 815.8L2167.1 816.0L2160.4 816.4L2153.7 816.9L2147.0 817.6L2140.3 818.3L2133.6 819.0L2126.9 819.8L2120.2 820.6L2113.8 821.4L2107.6 822.1L2101.5 822.9L2095.4 823.7L2089.2 824.7L2082.5 825.7L2075.3 826.9L2067.4 828.3L2062.2 829.3L2056.6 830.4L2050.8 831.5L2044.8 832.7L2038.7 833.9L2032.4 835.2L2026.0 836.5L2019.5 837.9L2013.0 839.3L2006.6 840.7L2000.1 842.1L1993.8 843.6L1987.6 845.0L1981.4 846.4L1975.3 847.9L1969.1 849.4L1963.0 850.9L1956.8 852.4L1950.7 853.9L1944.6 855.5L1938.4 857.1L1932.3 858.7L1926.1 860.3L1920.0 862.0L1913.8 863.7L1907.7 865.4L1901.4 867.1L1895.1 868.8L1888.7 870.6L1882.2 872.4L1875.7 874.2L1869.2 876.1L1862.8 877.9L1856.5 879.8L1850.4 881.7L1844.4 883.6L1838.6 885.5L1833.0 887.4L1827.7 889.3L1821.2 891.9L1814.8 894.4L1808.7 897.0L1802.9 899.6L1797.3 902.2L1792.0 904.8L1787.0 907.5L1782.3 910.1L1778.0 912.7L1774.0 915.3L1768.1 919.7L1763.3 924.2L1759.3 928.8L1755.9 933.2L1752.9 937.6L1750.1 941.7L1745.9 949.1L1743.4 955.8L1742.1 962.0L1742.7 971.7L1744.3 978.8Z" fill="#000"/><path d="M2380.8 994.7L2382.8 999.9L2385.4 1007.5L2386.0 1015.7L2384.7 1021.7L2382.3 1027.9L2378.7 1034.2L2374.0 1040.4L2369.9 1044.6L2365.2 1048.7L2359.9 1052.9L2354.4 1057.0L2348.8 1060.9L2343.3 1064.8L2338.2 1068.3L2333.4 1071.5L2328.5 1074.7L2323.1 1078.0L2316.7 1081.5L2309.0 1085.6L2304.5 1087.8L2299.6 1090.3L2294.3 1092.8L2288.7 1095.5L2282.9 1098.2L2276.9 1101.0L2270.8 1103.7L2264.7 1106.5L2258.5 1109.2L2252.4 1111.9L2246.4 1114.4L2240.6 1116.8L2234.9 1119.0L2229.2 1121.2L2223.4 1123.3L2217.7 1125.4L2212.0 1127.4L2206.3 1129.3L2200.6 1131.3L2194.9 1133.2L2189.2 1135.1L2183.5 1137.0L2177.9 1139.0L2172.2 1140.9L2166.5 1143.0L2160.8 1145.0L2155.1 1147.1L2149.4 1149.1L2143.7 1151.2L2138.0 1153.2L2132.3 1155.3L2126.6 1157.3L2120.9 1159.3L2115.2 1161.3L2109.5 1163.2L2103.8 1165.1L2097.5 1167.1L2091.3 1169.1L2085.1 1171.0L2078.9 1172.8L2072.6 1174.7L2066.4 1176.5L2060.2 1178.3L2054.0 1180.2L2047.8 1182.0L2041.5 1183.8L2035.3 1185.6L2029.1 1187.5L2022.9 1189.4L2016.7 1191.3L2010.5 1193.1L2004.2 1195.0L1998.0 1196.9L1991.8 1198.8L1985.6 1200.6L1979.3 1202.5L1973.1 1204.3L1966.9 1206.1L1960.7 1207.9L1954.4 1209.7L1948.2 1211.5L1942.0 1213.3L1935.8 1215.1L1929.5 1216.8L1923.3 1218.5L1917.1 1220.2L1910.8 1221.8L1904.6 1223.3L1898.3 1224.7L1892.1 1226.1L1885.8 1227.3L1879.6 1228.5L1873.3 1229.7L1867.1 1230.8L1860.8 1231.8L1854.6 1232.8L1848.4 1233.7L1842.1 1234.7L1835.9 1235.6L1829.7 1236.5L1823.5 1237.4L1817.2 1238.2L1811.0 1239.1L1804.8 1239.9L1798.5 1240.6L1792.3 1241.4L1786.1 1242.1L1779.9 1242.8L1773.6 1243.4L1767.4 1244.0L1761.2 1244.6L1754.9 1245.2L1748.5 1245.8L1742.1 1246.3L1735.7 1246.8L1729.2 1247.3L1722.9 1247.7L1716.6 1248.1L1710.3 1248.5L1704.3 1248.8L1698.4 1249.1L1692.7 1249.4L1685.7 1249.6L1678.5 1250.1L1671.4 1250.2L1664.4 1250.3L1657.8 1250.3L1651.6 1250.4L1646.2 1250.4L1641.6 1250.4L1638.0 1250.4L1638.0 1247.6L1641.6 1247.6L1646.2 1247.6L1651.6 1247.6L1657.8 1247.5L1664.4 1247.5L1671.3 1247.4L1678.5 1247.3L1685.6 1247.4L1692.5 1247.0L1698.2 1246.7L1704.1 1246.3L1710.2 1245.9L1716.4 1245.4L1722.7 1244.9L1729.0 1244.4L1735.4 1243.8L1741.8 1243.2L1748.2 1242.6L1754.6 1242.0L1760.8 1241.4L1767.0 1240.7L1773.3 1240.0L1779.5 1239.3L1785.7 1238.5L1791.9 1237.7L1798.1 1236.9L1804.3 1236.1L1810.5 1235.3L1816.7 1234.4L1822.9 1233.5L1829.1 1232.5L1835.3 1231.5L1841.5 1230.6L1847.7 1229.6L1853.9 1228.6L1860.1 1227.5L1866.3 1226.5L1872.5 1225.3L1878.7 1224.2L1884.9 1222.9L1891.1 1221.6L1897.3 1220.3L1903.5 1218.8L1909.7 1217.3L1915.9 1215.6L1922.0 1214.0L1928.2 1212.2L1934.4 1210.4L1940.7 1208.6L1946.9 1206.8L1953.1 1205.0L1959.3 1203.1L1965.5 1201.3L1971.7 1199.5L1977.9 1197.7L1984.1 1195.8L1990.4 1194.0L1996.6 1192.1L2002.8 1190.2L2009.0 1188.3L2015.2 1186.4L2021.4 1184.5L2027.6 1182.6L2033.9 1180.8L2040.1 1178.9L2046.3 1177.1L2052.5 1175.3L2058.8 1173.4L2065.0 1171.6L2071.2 1169.8L2077.4 1168.0L2083.6 1166.1L2089.8 1164.2L2096.0 1162.3L2102.2 1160.3L2107.9 1158.4L2113.6 1156.5L2119.3 1154.6L2125.0 1152.6L2130.7 1150.6L2136.4 1148.6L2142.1 1146.6L2147.8 1144.5L2153.5 1142.5L2159.2 1140.5L2164.9 1138.5L2170.6 1136.5L2176.3 1134.5L2182.1 1132.6L2187.8 1130.7L2193.5 1128.8L2199.2 1126.9L2204.9 1125.0L2210.6 1123.1L2216.3 1121.2L2222.0 1119.2L2227.6 1117.1L2233.3 1115.0L2239.0 1112.8L2244.8 1110.5L2250.8 1108.0L2256.9 1105.5L2263.1 1102.8L2269.2 1100.1L2275.3 1097.4L2281.3 1094.7L2287.1 1092.1L2292.7 1089.5L2298.0 1087.0L2302.9 1084.6L2307.4 1082.4L2315.1 1078.5L2321.4 1075.1L2326.8 1071.9L2331.7 1068.9L2336.4 1065.7L2341.5 1062.2L2347.1 1058.5L2352.7 1054.6L2358.3 1050.7L2363.5 1046.7L2368.1 1042.7L2372.0 1038.8L2376.7 1032.9L2380.2 1026.9L2382.6 1021.0L2384.0 1015.5L2383.5 1007.9L2381.1 1000.5L2379.2 995.3Z" fill="#000"/></g><path d="M2336.5 830.6L2303 809.5L2308.5 827.4L2300.5 848.0Z" fill="#000"/><path d="M1608.8 1249.2L1641.3 1228.3L1637.9 1249.2L1645.4 1266.0Z" fill="#000"/>
<g id="gopher">
<path d="M79.8 1620.0C73.7 1622.9 66.2 1633.3 63.3 1637.6C60.4 1641.9 61.2 1643.6 62.5 1645.8C63.8 1648.0 67.7 1650.6 71.0 1650.7C74.3 1650.8 77.9 1649.2 82.6 1646.5C87.3 1643.8 96.1 1639.2 99.0 1634.8C101.9 1630.4 103.2 1622.5 100.0 1620.0C96.8 1617.5 85.9 1617.1 79.8 1620.0Z" fill="#f8d4a2"/>
<path d="M234.0 1618.0C239.1 1620.6 244.0 1629.5 246.4 1633.5C248.8 1637.5 249.2 1639.2 248.2 1641.7C247.2 1644.2 243.3 1647.8 240.5 1648.3C237.7 1648.8 235.2 1647.3 231.6 1644.5C228.0 1641.7 221.5 1635.8 218.9 1631.4C216.3 1627.0 213.5 1620.2 216.0 1618.0C218.5 1615.8 228.9 1615.4 234.0 1618.0Z" fill="#f8d4a2"/>
<ellipse cx="46" cy="1493" rx="11.5" ry="10.5" fill="#f8d4a2"/>
<ellipse cx="267.5" cy="1492.5" rx="10.5" ry="10.5" fill="#f8d4a2"/>
<path d="M54.4 1410.0C54.8 1389.2 54.7 1384.7 57.0 1375.0C59.3 1365.3 63.8 1357.8 68.0 1352.0C72.2 1346.2 76.7 1343.8 82.0 1340.0C87.3 1336.2 93.0 1332.4 100.0 1329.5C107.0 1326.6 114.8 1324.3 124.0 1322.5C133.2 1320.7 144.1 1318.9 155.5 1318.9C166.9 1318.9 183.0 1320.8 192.7 1322.5C202.3 1324.2 206.8 1326.3 213.4 1329.2C220.0 1332.1 226.9 1336.2 232.0 1340.0C237.1 1343.8 240.3 1346.2 244.0 1352.0C247.7 1357.8 251.9 1365.3 254.0 1375.0C256.1 1384.7 256.2 1389.2 256.7 1410.0C257.2 1430.8 256.9 1472.7 257.0 1500.0C257.1 1527.3 257.8 1560.5 257.4 1574.0C257.0 1587.5 256.5 1576.1 254.7 1581.0C252.9 1585.9 250.3 1596.3 246.4 1603.2C242.5 1610.1 238.0 1616.9 231.3 1622.4C224.7 1627.9 215.2 1632.6 206.5 1636.2C197.8 1639.8 187.0 1642.3 179.0 1643.8C171.0 1645.3 164.1 1645.1 158.3 1645.2C152.6 1645.3 152.6 1645.8 144.5 1644.5C136.4 1643.2 120.3 1641.0 110.0 1637.6C99.7 1634.1 89.9 1629.1 82.6 1623.8C75.3 1618.5 70.1 1612.2 66.0 1606.0C61.9 1599.8 59.6 1592.7 57.8 1586.7C56.0 1580.7 55.5 1584.5 55.0 1570.0C54.5 1555.5 54.6 1526.7 54.5 1500.0C54.4 1473.3 54.0 1430.8 54.4 1410.0Z" fill="#2aa9c9"/>
<path d="M89.5 1324.0C91.9 1320.7 95.3 1325.8 97.0 1327.0C98.7 1328.2 99.7 1328.4 99.4 1331.3C99.1 1334.2 97.3 1338.7 95.0 1344.3C92.7 1349.9 89.1 1358.1 85.4 1365.0C81.7 1371.9 76.8 1380.1 73.0 1385.6C69.2 1391.1 65.1 1395.8 62.6 1398.0C60.1 1400.2 59.6 1399.5 57.8 1398.7C56.0 1397.9 50.2 1396.8 51.6 1393.2C53.0 1389.7 60.8 1385.1 66.0 1377.4C71.2 1369.7 78.7 1355.9 82.6 1347.0C86.5 1338.1 87.1 1327.3 89.5 1324.0Z" fill="#96191c"/>
<path d="M221.6 1324.0C219.2 1320.7 215.6 1325.8 214.0 1327.0C212.4 1328.2 211.7 1328.4 212.0 1331.3C212.3 1334.2 213.7 1338.7 216.0 1344.3C218.3 1349.9 222.1 1358.1 225.8 1365.0C229.5 1371.9 234.4 1380.1 238.2 1385.6C242.0 1391.1 246.0 1395.8 248.5 1398.0C251.0 1400.2 251.5 1399.5 253.3 1398.7C255.1 1397.9 260.9 1396.8 259.5 1393.2C258.1 1389.7 250.2 1385.1 245.0 1377.4C239.8 1369.7 232.4 1355.9 228.5 1347.0C224.6 1338.1 224.0 1327.3 221.6 1324.0Z" fill="#96191c"/>
<path d="M74.3 1319.8C79.1 1320.2 88.1 1319.9 89.5 1324.4C90.9 1328.9 86.5 1338.2 82.6 1347.0C78.7 1355.8 71.2 1369.7 66.0 1377.4C60.8 1385.1 55.7 1392.1 51.6 1393.2C47.5 1394.3 44.0 1388.8 41.3 1384.3C38.5 1379.8 35.9 1372.6 35.1 1366.4C34.3 1360.2 34.4 1353.0 36.5 1347.0C38.6 1341.0 43.5 1334.7 47.5 1330.6C51.5 1326.5 56.1 1324.1 60.6 1322.3C65.1 1320.5 69.5 1319.4 74.3 1319.8Z" fill="#5a5c5c"/>
<path d="M236.8 1319.8C232.0 1320.2 223.0 1319.9 221.6 1324.4C220.2 1328.9 224.6 1338.2 228.5 1347.0C232.4 1355.8 239.8 1369.7 245.0 1377.4C250.2 1385.1 255.4 1392.1 259.5 1393.2C263.6 1394.3 267.1 1388.8 269.8 1384.3C272.6 1379.8 275.2 1372.6 276.0 1366.4C276.8 1360.2 276.7 1353.0 274.6 1347.0C272.5 1341.0 267.6 1334.7 263.6 1330.6C259.6 1326.5 255.1 1324.1 250.6 1322.3C246.1 1320.5 241.6 1319.4 236.8 1319.8Z" fill="#5a5c5c"/>
<ellipse cx="42" cy="1343.6" rx="5.6" ry="11" transform="rotate(27 42 1343.6)" fill="#96191c"/>
<ellipse cx="269" cy="1344.3" rx="5.6" ry="11" transform="rotate(-27 269 1344.3)" fill="#96191c"/>
<path d="M47.5 1334.7C49.6 1330.8 55.5 1317.2 60.0 1311.0C64.5 1304.8 68.2 1300.6 74.3 1297.5C80.4 1294.4 88.0 1293.5 96.4 1292.3C104.9 1291.1 115.2 1290.7 125.0 1290.2C134.8 1289.7 145.0 1289.4 155.0 1289.4C165.0 1289.4 176.4 1289.8 185.0 1290.2C193.6 1290.6 197.9 1290.8 206.5 1292.0C215.1 1293.2 229.2 1294.0 236.8 1297.5C244.4 1301.0 247.6 1306.8 252.0 1313.0C256.4 1319.2 261.2 1331.1 263.0 1334.7" fill="none" stroke="#383838" stroke-width="4.8" stroke-linecap="round"/>
<path d="M75 1358C74 1372 74.5 1388 78.5 1396.7C81 1403 84 1407 88.1 1409.7L136 1406.3L183 1406.3L221.6 1409.7C226 1406 230.5 1400 232.7 1393.9C235 1385 235.2 1368 232.7 1358C231 1352 228 1349 225 1347.5C222 1346 219 1345.7 216 1345.7L92 1345.7C86 1345.7 82 1347 79 1350.5C76.5 1353 75.5 1355 75 1358Z" fill="#fff" fill-opacity="0.63"/>
<path d="M74.6 1367L234.9 1367.5L234 1390L76 1385Z" fill="#fff" fill-opacity="0.45"/>
<ellipse cx="112.9" cy="1369.1" rx="31.7" ry="28.9" fill="#fff"/>
<ellipse cx="191.4" cy="1365.7" rx="31.7" ry="29" fill="#fff"/>
<ellipse cx="98" cy="1370.5" rx="9.4" ry="10.3" fill="#afafaf"/>
<circle cx="101.9" cy="1372.6" r="2.5" fill="#fff"/>
<ellipse cx="175.5" cy="1367.7" rx="9.4" ry="10.3" fill="#a9a9a9"/>
<path d="M166.2 1366.5C167 1352.5 184 1352.5 184.8 1367.2Z" fill="#7c7c7c"/>
<circle cx="179.4" cy="1370" r="2.6" fill="#fff"/>
<path d="M134.2 1407.7C134.6 1404.7 136.5 1401.4 140.4 1399.4C144.3 1397.5 151.4 1396.0 157.6 1396.0C163.8 1396.0 173.2 1397.2 177.6 1399.4C182.0 1401.6 183.6 1405.9 183.8 1409.0C184.0 1412.1 181.2 1416.4 179.0 1418.0C176.8 1419.6 174.1 1419.4 170.7 1418.7C167.2 1418.0 162.4 1414.0 158.3 1413.9C154.2 1413.8 149.4 1417.4 146.0 1418.0C142.6 1418.6 139.7 1419.0 137.7 1417.3C135.7 1415.6 133.8 1410.7 134.2 1407.7Z" fill="#f8d4a2"/>
<path d="M144.5 1415.5L158.6 1414.2L159 1430C157 1434 153.5 1436.6 151 1436.6C147.5 1436.6 144.3 1428 144.5 1415.5Z" fill="#fff"/>
<path d="M159.4 1414.2L172.8 1415.5C173 1428 170.5 1435.5 166 1435.5C163 1435.5 160.5 1433.5 159.4 1430Z" fill="#fff"/>
<ellipse cx="157.6" cy="1394.6" rx="14.2" ry="8.6" fill="#050507"/>
<path d="M48.9 1429.7L54.4 1427.7L151.4 1454.5C153.5 1470 155 1490 154.9 1500C154.6 1520 153 1545 150.7 1556.4C149 1565 146.5 1572 140 1577C131 1583 118 1584.5 104.6 1583.9C85 1583 68 1577.5 55 1570C50 1567 46 1563 45.4 1556.4C45.5 1545 48 1525 50.2 1512.3C55.5 1508 58 1506 59 1500C61.5 1492 61.5 1482 59.2 1476.5C57 1472.5 52.5 1472 51.2 1471Z" fill="#ee9325"/>
<path d="M262.3 1430.4L256.7 1432.4L165.2 1454.5C163.5 1470 161.8 1488 162 1500C162 1520 162.8 1545 164.5 1556.4C165.8 1565 168.5 1572 175 1576.5C185 1582.5 198 1584.3 209.3 1583.9C228 1583.3 245 1580 257.4 1574.3C264 1570 270 1565 271.9 1556.4C271.5 1545 268.5 1525 265.7 1512.3C260 1508.5 257.8 1506 257.4 1500C255 1492 254.8 1483 256.7 1478C258.5 1474 260.3 1472.5 260.9 1471Z" fill="#ee9325"/>
<path d="M49.8 1511.6C82 1517.8 117 1520.6 154.2 1520.6L153.2 1539.8C117 1540.5 82 1538 47.6 1530.9Z" fill="#e7e8e8"/>
<path d="M46.6 1539.2C82 1547 117 1550 152.3 1550.2L150.5 1557C149.5 1563 148.5 1567 147 1570C117 1570.5 82 1567.4 45.6 1560.2Z" fill="#e7e8e8"/>
<path d="M161.9 1520.6C206 1520 241 1515 266.4 1510.2L269.3 1530.2C241 1535 206 1539.2 162.6 1539.8Z" fill="#e7e8e8"/>
<path d="M163.5 1550.2C206 1549.5 241 1544.7 270.5 1538.5L271.9 1559.8C241 1566 206 1570 168 1570C166.5 1566 165.3 1561 164.5 1556.4Z" fill="#e7e8e8"/>
<path d="M6.2 1407.7L35.8 1473.7" stroke="#cde063" stroke-width="10.4" stroke-linecap="round"/>
<path d="M311.8 1408.4L278 1473.7" stroke="#cde063" stroke-width="10.4" stroke-linecap="round"/>
<path d="M34.6 1471L37 1476.3" stroke="#8d8d8d" stroke-width="11"/>
<path d="M279.4 1471L276.7 1476.2" stroke="#8d8d8d" stroke-width="11"/>
<path d="M37 1476.3L51 1505.8" stroke="#08080a" stroke-width="11.4"/><circle cx="50.6" cy="1505" r="5.7" fill="#08080a"/>
<path d="M276.7 1476.2L261.5 1504.6" stroke="#08080a" stroke-width="11.4"/><circle cx="261.8" cy="1504" r="5.7" fill="#08080a"/>
<ellipse cx="49" cy="1491" rx="6" ry="5.5" fill="#f8d4a2"/>
<ellipse cx="265" cy="1489.5" rx="6.5" ry="5.5" fill="#f8d4a2"/>
</g>
<text y="1726" font-size="98" style="font-family:'Liberation Sans',sans-serif" stroke-linejoin="round" stroke-linecap="round"><tspan x="24.6 62.6" fill="#353535" stroke="#353535" stroke-width="1">tr</tspan><tspan x="95" fill="#2aa9c9" stroke="#2aa9c9" stroke-width="2">æ</tspan><tspan x="184 218.5 243.4" fill="#353535" stroke="#353535" stroke-width="1">fik</tspan></text>
</svg>
</body></html>
